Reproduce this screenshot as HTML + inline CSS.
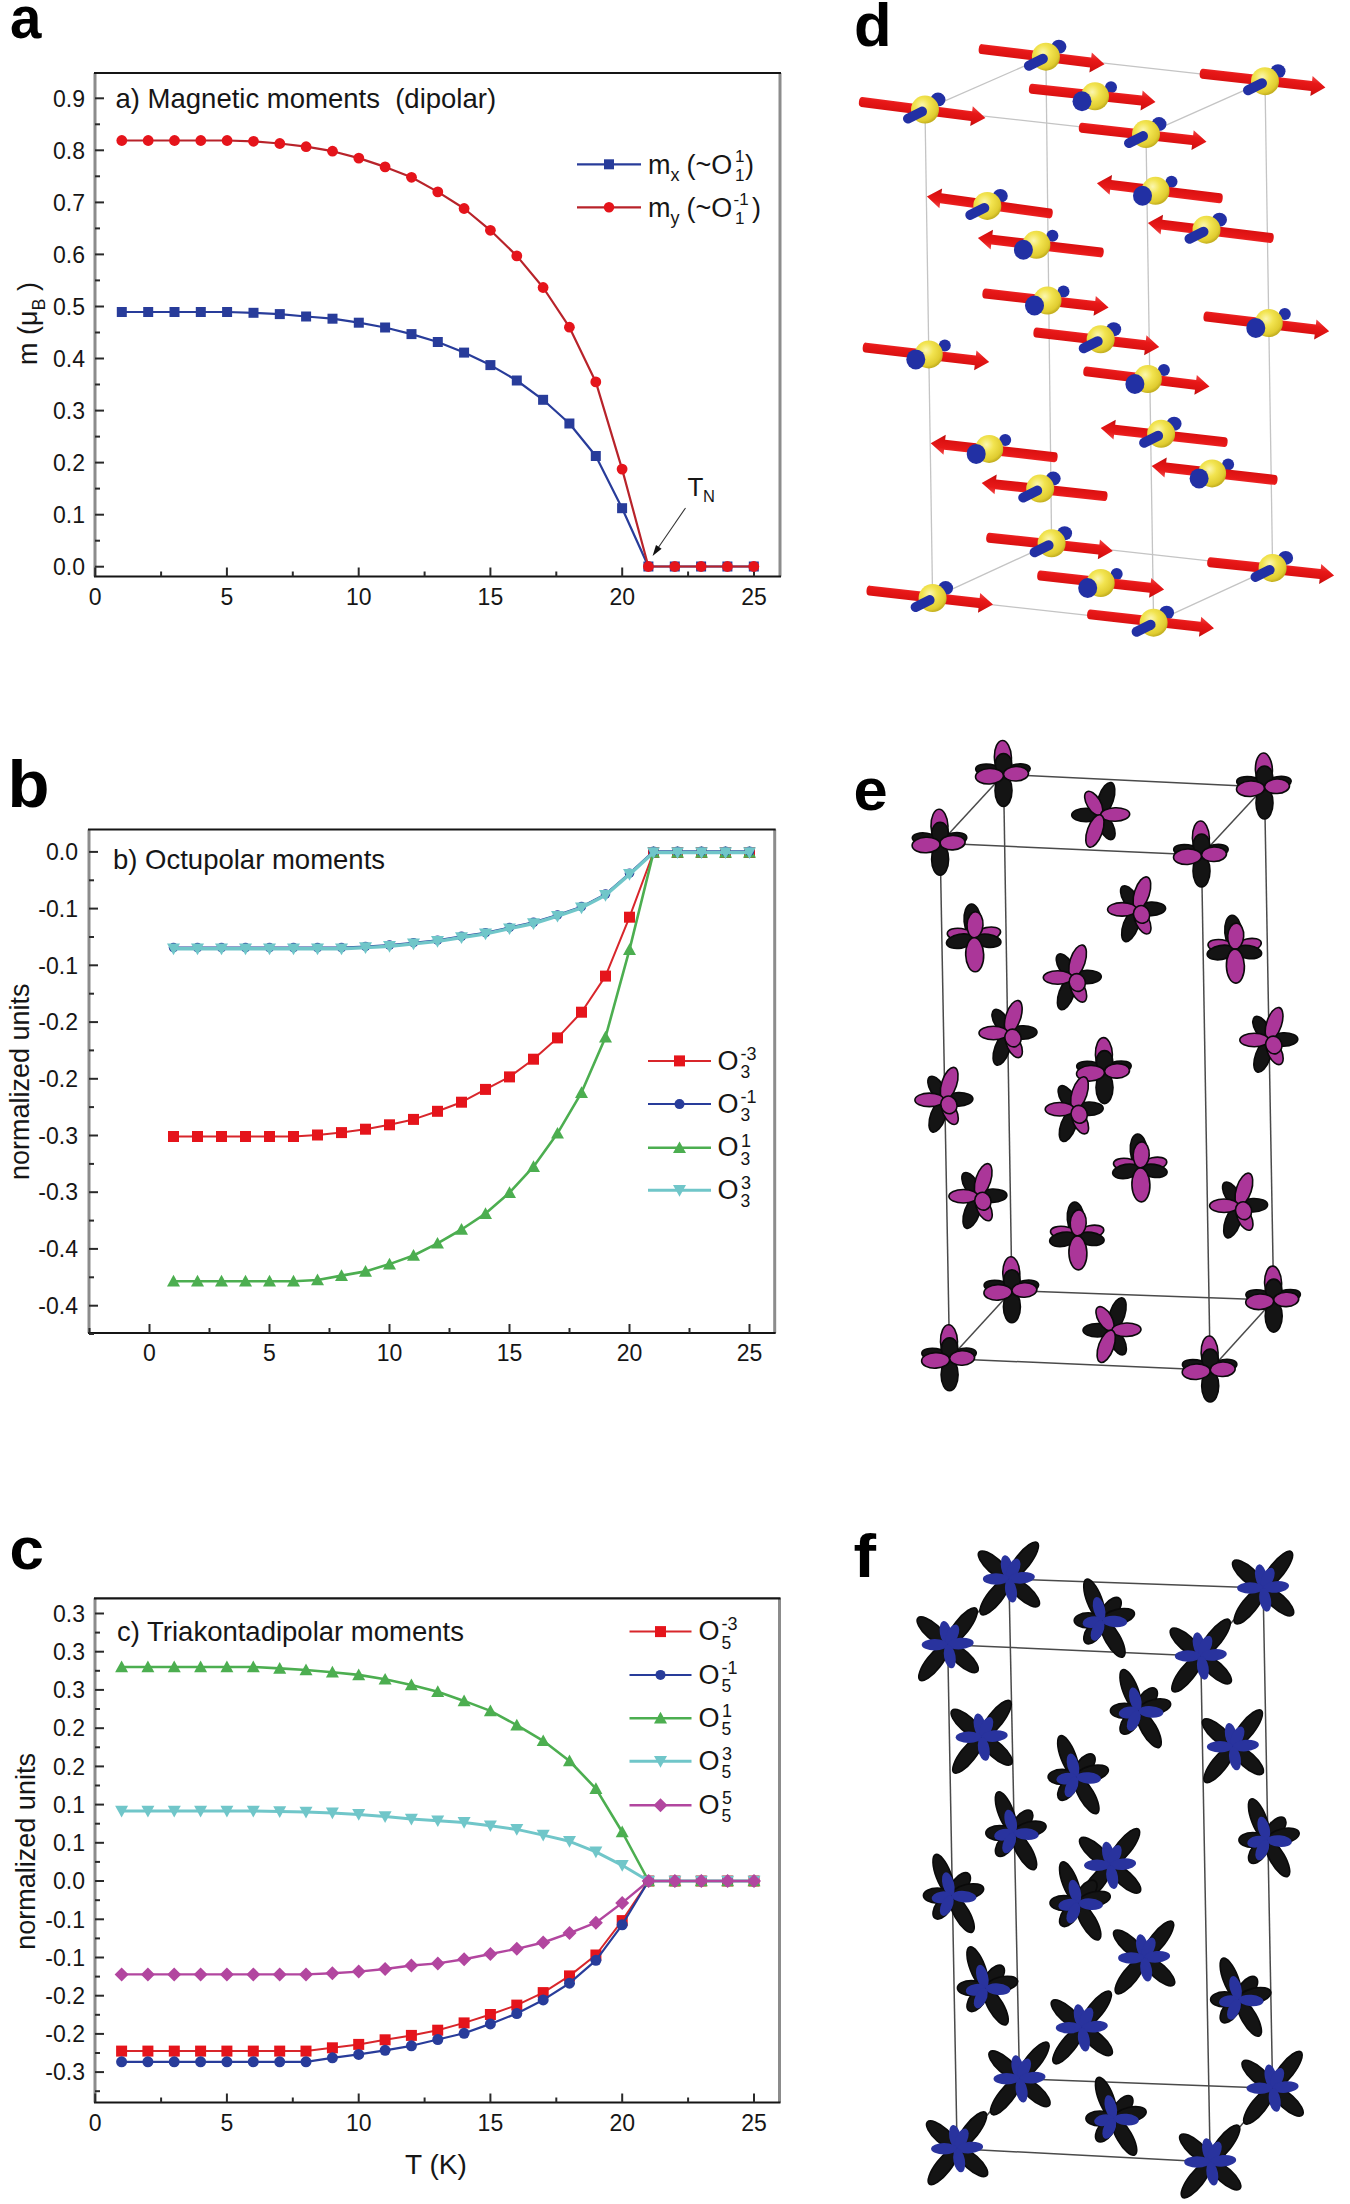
<!DOCTYPE html>
<html><head><meta charset="utf-8"><title>Figure</title>
<style>
html,body{margin:0;padding:0;background:#fff;}
body{width:1350px;height:2204px;overflow:hidden;position:relative;}
svg{position:absolute;left:0;top:0;}
text{font-family:"Liberation Sans", sans-serif;fill:#161616;}
.pl{font-weight:bold;fill:#000;}
</style></head><body>
<svg width="1350" height="2204" viewBox="0 0 1350 2204">

<line x1="95" y1="73" x2="95" y2="576.5" stroke="#8c8c8c" stroke-width="3"/><line x1="780" y1="73" x2="780" y2="576.5" stroke="#8c8c8c" stroke-width="3"/><line x1="94" y1="73" x2="781" y2="73" stroke="#151515" stroke-width="2.2"/><line x1="94" y1="576.5" x2="781" y2="576.5" stroke="#151515" stroke-width="2.2"/>
<line x1="95" y1="566.7" x2="104" y2="566.7" stroke="#2a2a2a" stroke-width="2"/><line x1="95" y1="514.7" x2="104" y2="514.7" stroke="#2a2a2a" stroke-width="2"/><line x1="95" y1="462.6" x2="104" y2="462.6" stroke="#2a2a2a" stroke-width="2"/><line x1="95" y1="410.6" x2="104" y2="410.6" stroke="#2a2a2a" stroke-width="2"/><line x1="95" y1="358.5" x2="104" y2="358.5" stroke="#2a2a2a" stroke-width="2"/><line x1="95" y1="306.5" x2="104" y2="306.5" stroke="#2a2a2a" stroke-width="2"/><line x1="95" y1="254.4" x2="104" y2="254.4" stroke="#2a2a2a" stroke-width="2"/><line x1="95" y1="202.4" x2="104" y2="202.4" stroke="#2a2a2a" stroke-width="2"/><line x1="95" y1="150.3" x2="104" y2="150.3" stroke="#2a2a2a" stroke-width="2"/><line x1="95" y1="98.3" x2="104" y2="98.3" stroke="#2a2a2a" stroke-width="2"/><line x1="95" y1="540.7" x2="100" y2="540.7" stroke="#2a2a2a" stroke-width="2"/><line x1="95" y1="488.6" x2="100" y2="488.6" stroke="#2a2a2a" stroke-width="2"/><line x1="95" y1="436.6" x2="100" y2="436.6" stroke="#2a2a2a" stroke-width="2"/><line x1="95" y1="384.5" x2="100" y2="384.5" stroke="#2a2a2a" stroke-width="2"/><line x1="95" y1="332.5" x2="100" y2="332.5" stroke="#2a2a2a" stroke-width="2"/><line x1="95" y1="280.4" x2="100" y2="280.4" stroke="#2a2a2a" stroke-width="2"/><line x1="95" y1="228.4" x2="100" y2="228.4" stroke="#2a2a2a" stroke-width="2"/><line x1="95" y1="176.3" x2="100" y2="176.3" stroke="#2a2a2a" stroke-width="2"/><line x1="95" y1="124.3" x2="100" y2="124.3" stroke="#2a2a2a" stroke-width="2"/><text x="85" y="574.9" text-anchor="end" font-size="23">0.0</text><text x="85" y="522.9" text-anchor="end" font-size="23">0.1</text><text x="85" y="470.8" text-anchor="end" font-size="23">0.2</text><text x="85" y="418.8" text-anchor="end" font-size="23">0.3</text><text x="85" y="366.7" text-anchor="end" font-size="23">0.4</text><text x="85" y="314.7" text-anchor="end" font-size="23">0.5</text><text x="85" y="262.6" text-anchor="end" font-size="23">0.6</text><text x="85" y="210.6" text-anchor="end" font-size="23">0.7</text><text x="85" y="158.5" text-anchor="end" font-size="23">0.8</text><text x="85" y="106.5" text-anchor="end" font-size="23">0.9</text>
<line x1="95.2" y1="576.5" x2="95.2" y2="567.5" stroke="#2a2a2a" stroke-width="2"/><line x1="226.9" y1="576.5" x2="226.9" y2="567.5" stroke="#2a2a2a" stroke-width="2"/><line x1="358.7" y1="576.5" x2="358.7" y2="567.5" stroke="#2a2a2a" stroke-width="2"/><line x1="490.4" y1="576.5" x2="490.4" y2="567.5" stroke="#2a2a2a" stroke-width="2"/><line x1="622.2" y1="576.5" x2="622.2" y2="567.5" stroke="#2a2a2a" stroke-width="2"/><line x1="754.0" y1="576.5" x2="754.0" y2="567.5" stroke="#2a2a2a" stroke-width="2"/><line x1="161.1" y1="576.5" x2="161.1" y2="571.5" stroke="#2a2a2a" stroke-width="2"/><line x1="292.8" y1="576.5" x2="292.8" y2="571.5" stroke="#2a2a2a" stroke-width="2"/><line x1="424.6" y1="576.5" x2="424.6" y2="571.5" stroke="#2a2a2a" stroke-width="2"/><line x1="556.3" y1="576.5" x2="556.3" y2="571.5" stroke="#2a2a2a" stroke-width="2"/><line x1="688.1" y1="576.5" x2="688.1" y2="571.5" stroke="#2a2a2a" stroke-width="2"/><text x="95.2" y="604.5" text-anchor="middle" font-size="23">0</text><text x="226.9" y="604.5" text-anchor="middle" font-size="23">5</text><text x="358.7" y="604.5" text-anchor="middle" font-size="23">10</text><text x="490.4" y="604.5" text-anchor="middle" font-size="23">15</text><text x="622.2" y="604.5" text-anchor="middle" font-size="23">20</text><text x="754.0" y="604.5" text-anchor="middle" font-size="23">25</text>
<polyline points="121.8,312.0 148.2,312.0 174.5,312.0 200.8,312.0 227.1,312.0 253.5,312.8 279.8,314.1 306.1,316.5 332.5,318.7 358.8,322.7 385.1,327.5 411.5,334.1 437.8,342.0 464.1,352.6 490.4,365.1 516.8,380.5 543.1,399.8 569.4,423.5 595.8,456.0 622.1,508.2 648.4,566.5 674.8,566.5 701.1,566.5 727.4,566.5 753.8,566.5" fill="none" stroke="#283c9a" stroke-width="2.2" stroke-linejoin="round"/><rect x="116.8" y="307.0" width="10" height="10" fill="#283c9a"/><rect x="143.2" y="307.0" width="10" height="10" fill="#283c9a"/><rect x="169.5" y="307.0" width="10" height="10" fill="#283c9a"/><rect x="195.8" y="307.0" width="10" height="10" fill="#283c9a"/><rect x="222.1" y="307.0" width="10" height="10" fill="#283c9a"/><rect x="248.5" y="307.8" width="10" height="10" fill="#283c9a"/><rect x="274.8" y="309.1" width="10" height="10" fill="#283c9a"/><rect x="301.1" y="311.5" width="10" height="10" fill="#283c9a"/><rect x="327.5" y="313.7" width="10" height="10" fill="#283c9a"/><rect x="353.8" y="317.7" width="10" height="10" fill="#283c9a"/><rect x="380.1" y="322.5" width="10" height="10" fill="#283c9a"/><rect x="406.5" y="329.1" width="10" height="10" fill="#283c9a"/><rect x="432.8" y="337.0" width="10" height="10" fill="#283c9a"/><rect x="459.1" y="347.6" width="10" height="10" fill="#283c9a"/><rect x="485.4" y="360.1" width="10" height="10" fill="#283c9a"/><rect x="511.8" y="375.5" width="10" height="10" fill="#283c9a"/><rect x="538.1" y="394.8" width="10" height="10" fill="#283c9a"/><rect x="564.4" y="418.5" width="10" height="10" fill="#283c9a"/><rect x="590.8" y="451.0" width="10" height="10" fill="#283c9a"/><rect x="617.1" y="503.2" width="10" height="10" fill="#283c9a"/><rect x="643.4" y="561.5" width="10" height="10" fill="#283c9a"/><rect x="669.8" y="561.5" width="10" height="10" fill="#283c9a"/><rect x="696.1" y="561.5" width="10" height="10" fill="#283c9a"/><rect x="722.4" y="561.5" width="10" height="10" fill="#283c9a"/><rect x="748.8" y="561.5" width="10" height="10" fill="#283c9a"/>
<polyline points="121.8,140.5 148.2,140.5 174.5,140.5 200.8,140.5 227.1,140.5 253.5,141.3 279.8,143.5 306.1,146.7 332.5,151.2 358.8,158.1 385.1,166.9 411.5,177.3 437.8,191.9 464.1,208.5 490.4,230.3 516.8,255.9 543.1,287.5 569.4,327.2 595.8,381.9 622.1,469.1 648.4,566.5 674.8,566.5 701.1,566.5 727.4,566.5 753.8,566.5" fill="none" stroke="#b8232a" stroke-width="2.2" stroke-linejoin="round"/><circle cx="121.8" cy="140.5" r="5.4" fill="#e5141b"/><circle cx="148.2" cy="140.5" r="5.4" fill="#e5141b"/><circle cx="174.5" cy="140.5" r="5.4" fill="#e5141b"/><circle cx="200.8" cy="140.5" r="5.4" fill="#e5141b"/><circle cx="227.1" cy="140.5" r="5.4" fill="#e5141b"/><circle cx="253.5" cy="141.3" r="5.4" fill="#e5141b"/><circle cx="279.8" cy="143.5" r="5.4" fill="#e5141b"/><circle cx="306.1" cy="146.7" r="5.4" fill="#e5141b"/><circle cx="332.5" cy="151.2" r="5.4" fill="#e5141b"/><circle cx="358.8" cy="158.1" r="5.4" fill="#e5141b"/><circle cx="385.1" cy="166.9" r="5.4" fill="#e5141b"/><circle cx="411.5" cy="177.3" r="5.4" fill="#e5141b"/><circle cx="437.8" cy="191.9" r="5.4" fill="#e5141b"/><circle cx="464.1" cy="208.5" r="5.4" fill="#e5141b"/><circle cx="490.4" cy="230.3" r="5.4" fill="#e5141b"/><circle cx="516.8" cy="255.9" r="5.4" fill="#e5141b"/><circle cx="543.1" cy="287.5" r="5.4" fill="#e5141b"/><circle cx="569.4" cy="327.2" r="5.4" fill="#e5141b"/><circle cx="595.8" cy="381.9" r="5.4" fill="#e5141b"/><circle cx="622.1" cy="469.1" r="5.4" fill="#e5141b"/><circle cx="648.4" cy="566.5" r="5.4" fill="#e5141b"/><circle cx="674.8" cy="566.5" r="5.4" fill="#e5141b"/><circle cx="701.1" cy="566.5" r="5.4" fill="#e5141b"/><circle cx="727.4" cy="566.5" r="5.4" fill="#e5141b"/><circle cx="753.8" cy="566.5" r="5.4" fill="#e5141b"/>
<text x="115.5" y="108" font-size="27.5">a) Magnetic moments&#160;&#160;(dipolar)</text>
<line x1="577" y1="164.3" x2="641" y2="164.3" stroke="#283c9a" stroke-width="2.2"/><rect x="604.0" y="159.3" width="10" height="10" fill="#283c9a"/>
<line x1="577" y1="207.3" x2="641" y2="207.3" stroke="#b8232a" stroke-width="2.2"/><circle cx="609.0" cy="207.3" r="5.25" fill="#e5141b"/>
<text font-size="27"><tspan x="648" y="173.6">m</tspan><tspan x="670.5" y="180.6" font-size="18">x</tspan><tspan x="686.5" y="173.6">(~O</tspan><tspan x="735" y="162.1" font-size="17">1</tspan><tspan x="735" y="180.79999999999998" font-size="17">1</tspan><tspan x="745" y="173.6">)</tspan></text>
<text font-size="27"><tspan x="648" y="216.6">m</tspan><tspan x="670.5" y="223.6" font-size="18">y</tspan><tspan x="686.5" y="216.6">(~O</tspan><tspan x="733.5" y="205.1" font-size="17">-1</tspan><tspan x="735" y="223.79999999999998" font-size="17">1</tspan><tspan x="752" y="216.6">)</tspan></text>
<text font-size="26"><tspan x="687.5" y="495.6">T</tspan><tspan x="703" y="502.2" font-size="16.5">N</tspan></text>
<line x1="685.5" y1="508" x2="658" y2="548" stroke="#333" stroke-width="1.1"/>
<polygon points="652.6,556 661.6,548.8 656.0,544.9" fill="#111"/>
<text transform="translate(36.5,365) rotate(-90)" font-size="27">m (μ<tspan font-size="18" dy="8">B</tspan><tspan dy="-8"> )</tspan></text>
<line x1="89" y1="829.5" x2="89" y2="1333" stroke="#8c8c8c" stroke-width="3"/><line x1="774.7" y1="829.5" x2="774.7" y2="1333" stroke="#8c8c8c" stroke-width="3"/><line x1="88" y1="829.5" x2="775.7" y2="829.5" stroke="#151515" stroke-width="2.2"/><line x1="88" y1="1333" x2="775.7" y2="1333" stroke="#151515" stroke-width="2.2"/>
<line x1="89" y1="851.9" x2="98" y2="851.9" stroke="#2a2a2a" stroke-width="2"/><line x1="89" y1="908.6" x2="98" y2="908.6" stroke="#2a2a2a" stroke-width="2"/><line x1="89" y1="965.3" x2="98" y2="965.3" stroke="#2a2a2a" stroke-width="2"/><line x1="89" y1="1022.1" x2="98" y2="1022.1" stroke="#2a2a2a" stroke-width="2"/><line x1="89" y1="1078.8" x2="98" y2="1078.8" stroke="#2a2a2a" stroke-width="2"/><line x1="89" y1="1135.5" x2="98" y2="1135.5" stroke="#2a2a2a" stroke-width="2"/><line x1="89" y1="1192.2" x2="98" y2="1192.2" stroke="#2a2a2a" stroke-width="2"/><line x1="89" y1="1248.9" x2="98" y2="1248.9" stroke="#2a2a2a" stroke-width="2"/><line x1="89" y1="1305.7" x2="98" y2="1305.7" stroke="#2a2a2a" stroke-width="2"/><line x1="89" y1="880.3" x2="94" y2="880.3" stroke="#2a2a2a" stroke-width="2"/><line x1="89" y1="937.0" x2="94" y2="937.0" stroke="#2a2a2a" stroke-width="2"/><line x1="89" y1="993.7" x2="94" y2="993.7" stroke="#2a2a2a" stroke-width="2"/><line x1="89" y1="1050.4" x2="94" y2="1050.4" stroke="#2a2a2a" stroke-width="2"/><line x1="89" y1="1107.1" x2="94" y2="1107.1" stroke="#2a2a2a" stroke-width="2"/><line x1="89" y1="1163.9" x2="94" y2="1163.9" stroke="#2a2a2a" stroke-width="2"/><line x1="89" y1="1220.6" x2="94" y2="1220.6" stroke="#2a2a2a" stroke-width="2"/><line x1="89" y1="1277.3" x2="94" y2="1277.3" stroke="#2a2a2a" stroke-width="2"/><line x1="89" y1="1334.0" x2="94" y2="1334.0" stroke="#2a2a2a" stroke-width="2"/><text x="78" y="860.1" text-anchor="end" font-size="23">0.0</text><text x="78" y="916.8" text-anchor="end" font-size="23">-0.1</text><text x="78" y="973.5" text-anchor="end" font-size="23">-0.1</text><text x="78" y="1030.3" text-anchor="end" font-size="23">-0.2</text><text x="78" y="1087.0" text-anchor="end" font-size="23">-0.2</text><text x="78" y="1143.7" text-anchor="end" font-size="23">-0.3</text><text x="78" y="1200.4" text-anchor="end" font-size="23">-0.3</text><text x="78" y="1257.1" text-anchor="end" font-size="23">-0.4</text><text x="78" y="1313.9" text-anchor="end" font-size="23">-0.4</text>
<line x1="149.5" y1="1333" x2="149.5" y2="1324" stroke="#2a2a2a" stroke-width="2"/><line x1="269.5" y1="1333" x2="269.5" y2="1324" stroke="#2a2a2a" stroke-width="2"/><line x1="389.5" y1="1333" x2="389.5" y2="1324" stroke="#2a2a2a" stroke-width="2"/><line x1="509.5" y1="1333" x2="509.5" y2="1324" stroke="#2a2a2a" stroke-width="2"/><line x1="629.5" y1="1333" x2="629.5" y2="1324" stroke="#2a2a2a" stroke-width="2"/><line x1="749.5" y1="1333" x2="749.5" y2="1324" stroke="#2a2a2a" stroke-width="2"/><line x1="89.5" y1="1333" x2="89.5" y2="1328" stroke="#2a2a2a" stroke-width="2"/><line x1="209.5" y1="1333" x2="209.5" y2="1328" stroke="#2a2a2a" stroke-width="2"/><line x1="329.5" y1="1333" x2="329.5" y2="1328" stroke="#2a2a2a" stroke-width="2"/><line x1="449.5" y1="1333" x2="449.5" y2="1328" stroke="#2a2a2a" stroke-width="2"/><line x1="569.5" y1="1333" x2="569.5" y2="1328" stroke="#2a2a2a" stroke-width="2"/><line x1="689.5" y1="1333" x2="689.5" y2="1328" stroke="#2a2a2a" stroke-width="2"/><text x="149.5" y="1361" text-anchor="middle" font-size="23">0</text><text x="269.5" y="1361" text-anchor="middle" font-size="23">5</text><text x="389.5" y="1361" text-anchor="middle" font-size="23">10</text><text x="509.5" y="1361" text-anchor="middle" font-size="23">15</text><text x="629.5" y="1361" text-anchor="middle" font-size="23">20</text><text x="749.5" y="1361" text-anchor="middle" font-size="23">25</text>
<polyline points="173.5,1136.5 197.5,1136.5 221.5,1136.5 245.5,1136.5 269.5,1136.5 293.5,1136.5 317.5,1135.0 341.5,1132.6 365.5,1129.2 389.5,1124.8 413.5,1119.4 437.5,1111.3 461.5,1102.2 485.5,1089.4 509.5,1076.9 533.5,1059.2 557.5,1037.9 581.5,1012.2 605.5,976.1 629.5,917.2 653.5,852.5 677.5,852.5 701.5,852.5 725.5,852.5 749.5,852.5" fill="none" stroke="#d8262b" stroke-width="2.0" stroke-linejoin="round"/><rect x="168.0" y="1131.0" width="11" height="11" fill="#e5141b"/><rect x="192.0" y="1131.0" width="11" height="11" fill="#e5141b"/><rect x="216.0" y="1131.0" width="11" height="11" fill="#e5141b"/><rect x="240.0" y="1131.0" width="11" height="11" fill="#e5141b"/><rect x="264.0" y="1131.0" width="11" height="11" fill="#e5141b"/><rect x="288.0" y="1131.0" width="11" height="11" fill="#e5141b"/><rect x="312.0" y="1129.5" width="11" height="11" fill="#e5141b"/><rect x="336.0" y="1127.1" width="11" height="11" fill="#e5141b"/><rect x="360.0" y="1123.7" width="11" height="11" fill="#e5141b"/><rect x="384.0" y="1119.3" width="11" height="11" fill="#e5141b"/><rect x="408.0" y="1113.9" width="11" height="11" fill="#e5141b"/><rect x="432.0" y="1105.8" width="11" height="11" fill="#e5141b"/><rect x="456.0" y="1096.7" width="11" height="11" fill="#e5141b"/><rect x="480.0" y="1083.9" width="11" height="11" fill="#e5141b"/><rect x="504.0" y="1071.4" width="11" height="11" fill="#e5141b"/><rect x="528.0" y="1053.7" width="11" height="11" fill="#e5141b"/><rect x="552.0" y="1032.4" width="11" height="11" fill="#e5141b"/><rect x="576.0" y="1006.7" width="11" height="11" fill="#e5141b"/><rect x="600.0" y="970.6" width="11" height="11" fill="#e5141b"/><rect x="624.0" y="911.7" width="11" height="11" fill="#e5141b"/><rect x="648.0" y="847.0" width="11" height="11" fill="#e5141b"/><rect x="672.0" y="847.0" width="11" height="11" fill="#e5141b"/><rect x="696.0" y="847.0" width="11" height="11" fill="#e5141b"/><rect x="720.0" y="847.0" width="11" height="11" fill="#e5141b"/><rect x="744.0" y="847.0" width="11" height="11" fill="#e5141b"/>
<polyline points="173.5,1281.2 197.5,1281.2 221.5,1281.2 245.5,1281.2 269.5,1281.2 293.5,1281.2 317.5,1280.0 341.5,1275.6 365.5,1271.4 389.5,1264.1 413.5,1255.5 437.5,1243.3 461.5,1229.5 485.5,1213.6 509.5,1192.7 533.5,1166.7 557.5,1133.3 581.5,1092.6 605.5,1037.2 629.5,949.6 653.5,852.5 677.5,852.5 701.5,852.5 725.5,852.5 749.5,852.5" fill="none" stroke="#4cae50" stroke-width="2.6" stroke-linejoin="round"/><polygon points="173.5,1274.8 180.0,1286.5 167.0,1286.5" fill="#4cae50"/><polygon points="197.5,1274.8 204.0,1286.5 191.0,1286.5" fill="#4cae50"/><polygon points="221.5,1274.8 228.0,1286.5 215.0,1286.5" fill="#4cae50"/><polygon points="245.5,1274.8 252.0,1286.5 239.0,1286.5" fill="#4cae50"/><polygon points="269.5,1274.8 276.0,1286.5 263.0,1286.5" fill="#4cae50"/><polygon points="293.5,1274.8 300.0,1286.5 287.0,1286.5" fill="#4cae50"/><polygon points="317.5,1273.6 324.0,1285.3 311.0,1285.3" fill="#4cae50"/><polygon points="341.5,1269.2 348.0,1280.9 335.0,1280.9" fill="#4cae50"/><polygon points="365.5,1265.0 372.0,1276.7 359.0,1276.7" fill="#4cae50"/><polygon points="389.5,1257.7 396.0,1269.4 383.0,1269.4" fill="#4cae50"/><polygon points="413.5,1249.1 420.0,1260.8 407.0,1260.8" fill="#4cae50"/><polygon points="437.5,1236.9 444.0,1248.6 431.0,1248.6" fill="#4cae50"/><polygon points="461.5,1223.1 468.0,1234.8 455.0,1234.8" fill="#4cae50"/><polygon points="485.5,1207.2 492.0,1218.9 479.0,1218.9" fill="#4cae50"/><polygon points="509.5,1186.3 516.0,1198.0 503.0,1198.0" fill="#4cae50"/><polygon points="533.5,1160.3 540.0,1172.0 527.0,1172.0" fill="#4cae50"/><polygon points="557.5,1126.9 564.0,1138.6 551.0,1138.6" fill="#4cae50"/><polygon points="581.5,1086.2 588.0,1097.9 575.0,1097.9" fill="#4cae50"/><polygon points="605.5,1030.8 612.0,1042.5 599.0,1042.5" fill="#4cae50"/><polygon points="629.5,943.2 636.0,954.9 623.0,954.9" fill="#4cae50"/><polygon points="653.5,846.1 660.0,857.8 647.0,857.8" fill="#4cae50"/><polygon points="677.5,846.1 684.0,857.8 671.0,857.8" fill="#4cae50"/><polygon points="701.5,846.1 708.0,857.8 695.0,857.8" fill="#4cae50"/><polygon points="725.5,846.1 732.0,857.8 719.0,857.8" fill="#4cae50"/><polygon points="749.5,846.1 756.0,857.8 743.0,857.8" fill="#4cae50"/>
<polyline points="173.5,947.6 197.5,947.6 221.5,947.6 245.5,947.6 269.5,947.6 293.5,947.6 317.5,947.6 341.5,947.6 365.5,946.4 389.5,945.1 413.5,942.7 437.5,940.2 461.5,936.3 485.5,932.7 509.5,927.5 533.5,922.3 557.5,915.0 581.5,906.6 605.5,894.1 629.5,873.2 653.5,851.3 677.5,851.3 701.5,851.3 725.5,851.3 749.5,851.3" fill="none" stroke="#283c9a" stroke-width="2.0" stroke-linejoin="round"/><circle cx="173.5" cy="947.6" r="4.75" fill="#283c9a"/><circle cx="197.5" cy="947.6" r="4.75" fill="#283c9a"/><circle cx="221.5" cy="947.6" r="4.75" fill="#283c9a"/><circle cx="245.5" cy="947.6" r="4.75" fill="#283c9a"/><circle cx="269.5" cy="947.6" r="4.75" fill="#283c9a"/><circle cx="293.5" cy="947.6" r="4.75" fill="#283c9a"/><circle cx="317.5" cy="947.6" r="4.75" fill="#283c9a"/><circle cx="341.5" cy="947.6" r="4.75" fill="#283c9a"/><circle cx="365.5" cy="946.4" r="4.75" fill="#283c9a"/><circle cx="389.5" cy="945.1" r="4.75" fill="#283c9a"/><circle cx="413.5" cy="942.7" r="4.75" fill="#283c9a"/><circle cx="437.5" cy="940.2" r="4.75" fill="#283c9a"/><circle cx="461.5" cy="936.3" r="4.75" fill="#283c9a"/><circle cx="485.5" cy="932.7" r="4.75" fill="#283c9a"/><circle cx="509.5" cy="927.5" r="4.75" fill="#283c9a"/><circle cx="533.5" cy="922.3" r="4.75" fill="#283c9a"/><circle cx="557.5" cy="915.0" r="4.75" fill="#283c9a"/><circle cx="581.5" cy="906.6" r="4.75" fill="#283c9a"/><circle cx="605.5" cy="894.1" r="4.75" fill="#283c9a"/><circle cx="629.5" cy="873.2" r="4.75" fill="#283c9a"/><circle cx="653.5" cy="851.3" r="4.75" fill="#283c9a"/><circle cx="677.5" cy="851.3" r="4.75" fill="#283c9a"/><circle cx="701.5" cy="851.3" r="4.75" fill="#283c9a"/><circle cx="725.5" cy="851.3" r="4.75" fill="#283c9a"/><circle cx="749.5" cy="851.3" r="4.75" fill="#283c9a"/>
<polyline points="173.5,948.8 197.5,948.8 221.5,948.8 245.5,948.8 269.5,948.8 293.5,948.8 317.5,948.8 341.5,948.8 365.5,947.6 389.5,946.3 413.5,943.9 437.5,941.4 461.5,937.5 485.5,933.9 509.5,928.7 533.5,923.5 557.5,916.2 581.5,907.8 605.5,895.3 629.5,874.4 653.5,852.5 677.5,852.5 701.5,852.5 725.5,852.5 749.5,852.5" fill="none" stroke="#70c6c9" stroke-width="3.4" stroke-linejoin="round"/><polygon points="173.5,955.2 180.0,943.5 167.0,943.5" fill="#70c6c9"/><polygon points="197.5,955.2 204.0,943.5 191.0,943.5" fill="#70c6c9"/><polygon points="221.5,955.2 228.0,943.5 215.0,943.5" fill="#70c6c9"/><polygon points="245.5,955.2 252.0,943.5 239.0,943.5" fill="#70c6c9"/><polygon points="269.5,955.2 276.0,943.5 263.0,943.5" fill="#70c6c9"/><polygon points="293.5,955.2 300.0,943.5 287.0,943.5" fill="#70c6c9"/><polygon points="317.5,955.2 324.0,943.5 311.0,943.5" fill="#70c6c9"/><polygon points="341.5,955.2 348.0,943.5 335.0,943.5" fill="#70c6c9"/><polygon points="365.5,954.0 372.0,942.3 359.0,942.3" fill="#70c6c9"/><polygon points="389.5,952.7 396.0,941.0 383.0,941.0" fill="#70c6c9"/><polygon points="413.5,950.3 420.0,938.6 407.0,938.6" fill="#70c6c9"/><polygon points="437.5,947.8 444.0,936.1 431.0,936.1" fill="#70c6c9"/><polygon points="461.5,943.9 468.0,932.2 455.0,932.2" fill="#70c6c9"/><polygon points="485.5,940.3 492.0,928.6 479.0,928.6" fill="#70c6c9"/><polygon points="509.5,935.1 516.0,923.4 503.0,923.4" fill="#70c6c9"/><polygon points="533.5,929.9 540.0,918.2 527.0,918.2" fill="#70c6c9"/><polygon points="557.5,922.6 564.0,910.9 551.0,910.9" fill="#70c6c9"/><polygon points="581.5,914.2 588.0,902.5 575.0,902.5" fill="#70c6c9"/><polygon points="605.5,901.7 612.0,890.0 599.0,890.0" fill="#70c6c9"/><polygon points="629.5,880.8 636.0,869.1 623.0,869.1" fill="#70c6c9"/><polygon points="653.5,858.9 660.0,847.2 647.0,847.2" fill="#70c6c9"/><polygon points="677.5,858.9 684.0,847.2 671.0,847.2" fill="#70c6c9"/><polygon points="701.5,858.9 708.0,847.2 695.0,847.2" fill="#70c6c9"/><polygon points="725.5,858.9 732.0,847.2 719.0,847.2" fill="#70c6c9"/><polygon points="749.5,858.9 756.0,847.2 743.0,847.2" fill="#70c6c9"/>
<text x="113" y="869" font-size="27.5">b) Octupolar moments</text>
<line x1="648" y1="1060.9" x2="711" y2="1060.9" stroke="#d8262b" stroke-width="2"/><rect x="674.0" y="1055.4" width="11" height="11" fill="#e5141b"/>
<text font-size="27"><tspan x="717.5" y="1069.5">O</tspan><tspan x="740.5" y="1059.6000000000001" font-size="18">-3</tspan><tspan x="740.5" y="1077.8000000000002" font-size="17.5">3</tspan></text>
<line x1="648" y1="1104.1" x2="711" y2="1104.1" stroke="#283c9a" stroke-width="2"/><circle cx="679.5" cy="1104.1" r="5.0" fill="#283c9a"/>
<text font-size="27"><tspan x="717.5" y="1112.6999999999998">O</tspan><tspan x="740.5" y="1102.8" font-size="18">-1</tspan><tspan x="740.5" y="1121.0" font-size="17.5">3</tspan></text>
<line x1="648" y1="1147.8" x2="711" y2="1147.8" stroke="#4cae50" stroke-width="2.6"/><polygon points="679.5,1141.4 686.0,1153.1 673.0,1153.1" fill="#4cae50"/>
<text font-size="27"><tspan x="717.5" y="1156.3999999999999">O</tspan><tspan x="741" y="1146.5" font-size="18">1</tspan><tspan x="740.5" y="1164.7" font-size="17.5">3</tspan></text>
<line x1="648" y1="1190.3" x2="711" y2="1190.3" stroke="#70c6c9" stroke-width="3"/><polygon points="679.5,1196.7 686.0,1185.0 673.0,1185.0" fill="#70c6c9"/>
<text font-size="27"><tspan x="717.5" y="1198.8999999999999">O</tspan><tspan x="741" y="1189.0" font-size="18">3</tspan><tspan x="740.5" y="1207.2" font-size="17.5">3</tspan></text>
<text transform="translate(29,1180) rotate(-90)" font-size="27">normalized units</text>
<line x1="95" y1="1598.3" x2="95" y2="2102.5" stroke="#8c8c8c" stroke-width="3"/><line x1="779.5" y1="1598.3" x2="779.5" y2="2102.5" stroke="#8c8c8c" stroke-width="3"/><line x1="94" y1="1598.3" x2="780.5" y2="1598.3" stroke="#151515" stroke-width="2.2"/><line x1="94" y1="2102.5" x2="780.5" y2="2102.5" stroke="#151515" stroke-width="2.2"/>
<line x1="95" y1="1613.5" x2="104" y2="1613.5" stroke="#2a2a2a" stroke-width="2"/><line x1="95" y1="1651.7" x2="104" y2="1651.7" stroke="#2a2a2a" stroke-width="2"/><line x1="95" y1="1689.9" x2="104" y2="1689.9" stroke="#2a2a2a" stroke-width="2"/><line x1="95" y1="1728.2" x2="104" y2="1728.2" stroke="#2a2a2a" stroke-width="2"/><line x1="95" y1="1766.4" x2="104" y2="1766.4" stroke="#2a2a2a" stroke-width="2"/><line x1="95" y1="1804.6" x2="104" y2="1804.6" stroke="#2a2a2a" stroke-width="2"/><line x1="95" y1="1842.8" x2="104" y2="1842.8" stroke="#2a2a2a" stroke-width="2"/><line x1="95" y1="1881.0" x2="104" y2="1881.0" stroke="#2a2a2a" stroke-width="2"/><line x1="95" y1="1919.3" x2="104" y2="1919.3" stroke="#2a2a2a" stroke-width="2"/><line x1="95" y1="1957.5" x2="104" y2="1957.5" stroke="#2a2a2a" stroke-width="2"/><line x1="95" y1="1995.7" x2="104" y2="1995.7" stroke="#2a2a2a" stroke-width="2"/><line x1="95" y1="2033.9" x2="104" y2="2033.9" stroke="#2a2a2a" stroke-width="2"/><line x1="95" y1="2072.1" x2="104" y2="2072.1" stroke="#2a2a2a" stroke-width="2"/><line x1="95" y1="1632.6" x2="100" y2="1632.6" stroke="#2a2a2a" stroke-width="2"/><line x1="95" y1="1670.8" x2="100" y2="1670.8" stroke="#2a2a2a" stroke-width="2"/><line x1="95" y1="1709.0" x2="100" y2="1709.0" stroke="#2a2a2a" stroke-width="2"/><line x1="95" y1="1747.3" x2="100" y2="1747.3" stroke="#2a2a2a" stroke-width="2"/><line x1="95" y1="1785.5" x2="100" y2="1785.5" stroke="#2a2a2a" stroke-width="2"/><line x1="95" y1="1823.7" x2="100" y2="1823.7" stroke="#2a2a2a" stroke-width="2"/><line x1="95" y1="1861.9" x2="100" y2="1861.9" stroke="#2a2a2a" stroke-width="2"/><line x1="95" y1="1900.2" x2="100" y2="1900.2" stroke="#2a2a2a" stroke-width="2"/><line x1="95" y1="1938.4" x2="100" y2="1938.4" stroke="#2a2a2a" stroke-width="2"/><line x1="95" y1="1976.6" x2="100" y2="1976.6" stroke="#2a2a2a" stroke-width="2"/><line x1="95" y1="2014.8" x2="100" y2="2014.8" stroke="#2a2a2a" stroke-width="2"/><line x1="95" y1="2053.0" x2="100" y2="2053.0" stroke="#2a2a2a" stroke-width="2"/><line x1="95" y1="2091.2" x2="100" y2="2091.2" stroke="#2a2a2a" stroke-width="2"/><text x="85" y="1621.7" text-anchor="end" font-size="23">0.3</text><text x="85" y="1659.9" text-anchor="end" font-size="23">0.3</text><text x="85" y="1698.1" text-anchor="end" font-size="23">0.3</text><text x="85" y="1736.4" text-anchor="end" font-size="23">0.2</text><text x="85" y="1774.6" text-anchor="end" font-size="23">0.2</text><text x="85" y="1812.8" text-anchor="end" font-size="23">0.1</text><text x="85" y="1851.0" text-anchor="end" font-size="23">0.1</text><text x="85" y="1889.2" text-anchor="end" font-size="23">0.0</text><text x="85" y="1927.5" text-anchor="end" font-size="23">-0.1</text><text x="85" y="1965.7" text-anchor="end" font-size="23">-0.1</text><text x="85" y="2003.9" text-anchor="end" font-size="23">-0.2</text><text x="85" y="2042.1" text-anchor="end" font-size="23">-0.2</text><text x="85" y="2080.3" text-anchor="end" font-size="23">-0.3</text>
<line x1="95.2" y1="2102.5" x2="95.2" y2="2093.5" stroke="#2a2a2a" stroke-width="2"/><line x1="226.9" y1="2102.5" x2="226.9" y2="2093.5" stroke="#2a2a2a" stroke-width="2"/><line x1="358.7" y1="2102.5" x2="358.7" y2="2093.5" stroke="#2a2a2a" stroke-width="2"/><line x1="490.4" y1="2102.5" x2="490.4" y2="2093.5" stroke="#2a2a2a" stroke-width="2"/><line x1="622.2" y1="2102.5" x2="622.2" y2="2093.5" stroke="#2a2a2a" stroke-width="2"/><line x1="754.0" y1="2102.5" x2="754.0" y2="2093.5" stroke="#2a2a2a" stroke-width="2"/><line x1="161.1" y1="2102.5" x2="161.1" y2="2097.5" stroke="#2a2a2a" stroke-width="2"/><line x1="292.8" y1="2102.5" x2="292.8" y2="2097.5" stroke="#2a2a2a" stroke-width="2"/><line x1="424.6" y1="2102.5" x2="424.6" y2="2097.5" stroke="#2a2a2a" stroke-width="2"/><line x1="556.3" y1="2102.5" x2="556.3" y2="2097.5" stroke="#2a2a2a" stroke-width="2"/><line x1="688.1" y1="2102.5" x2="688.1" y2="2097.5" stroke="#2a2a2a" stroke-width="2"/><text x="95.2" y="2130.5" text-anchor="middle" font-size="23">0</text><text x="226.9" y="2130.5" text-anchor="middle" font-size="23">5</text><text x="358.7" y="2130.5" text-anchor="middle" font-size="23">10</text><text x="490.4" y="2130.5" text-anchor="middle" font-size="23">15</text><text x="622.2" y="2130.5" text-anchor="middle" font-size="23">20</text><text x="754.0" y="2130.5" text-anchor="middle" font-size="23">25</text>
<polyline points="121.6,2051.1 147.9,2051.1 174.2,2051.1 200.6,2051.1 226.9,2051.1 253.3,2051.1 279.7,2051.1 306.0,2051.1 332.4,2047.8 358.7,2044.4 385.1,2039.8 411.4,2035.4 437.8,2030.2 464.1,2022.9 490.4,2014.5 516.8,2005.1 543.2,1992.6 569.5,1975.9 595.9,1955.0 622.2,1920.6 648.6,1881.0 674.9,1881.0 701.3,1881.0 727.6,1881.0 754.0,1881.0" fill="none" stroke="#d8262b" stroke-width="2.0" stroke-linejoin="round"/><rect x="116.1" y="2045.6" width="11" height="11" fill="#e5141b"/><rect x="142.4" y="2045.6" width="11" height="11" fill="#e5141b"/><rect x="168.8" y="2045.6" width="11" height="11" fill="#e5141b"/><rect x="195.1" y="2045.6" width="11" height="11" fill="#e5141b"/><rect x="221.4" y="2045.6" width="11" height="11" fill="#e5141b"/><rect x="247.8" y="2045.6" width="11" height="11" fill="#e5141b"/><rect x="274.2" y="2045.6" width="11" height="11" fill="#e5141b"/><rect x="300.5" y="2045.6" width="11" height="11" fill="#e5141b"/><rect x="326.9" y="2042.3" width="11" height="11" fill="#e5141b"/><rect x="353.2" y="2038.9" width="11" height="11" fill="#e5141b"/><rect x="379.6" y="2034.3" width="11" height="11" fill="#e5141b"/><rect x="405.9" y="2029.9" width="11" height="11" fill="#e5141b"/><rect x="432.2" y="2024.7" width="11" height="11" fill="#e5141b"/><rect x="458.6" y="2017.4" width="11" height="11" fill="#e5141b"/><rect x="484.9" y="2009.0" width="11" height="11" fill="#e5141b"/><rect x="511.3" y="1999.6" width="11" height="11" fill="#e5141b"/><rect x="537.7" y="1987.1" width="11" height="11" fill="#e5141b"/><rect x="564.0" y="1970.4" width="11" height="11" fill="#e5141b"/><rect x="590.4" y="1949.5" width="11" height="11" fill="#e5141b"/><rect x="616.7" y="1915.1" width="11" height="11" fill="#e5141b"/><rect x="643.1" y="1875.5" width="11" height="11" fill="#e5141b"/><rect x="669.4" y="1875.5" width="11" height="11" fill="#e5141b"/><rect x="695.8" y="1875.5" width="11" height="11" fill="#e5141b"/><rect x="722.1" y="1875.5" width="11" height="11" fill="#e5141b"/><rect x="748.5" y="1875.5" width="11" height="11" fill="#e5141b"/>
<polyline points="121.6,2061.8 147.9,2061.8 174.2,2061.8 200.6,2061.8 226.9,2061.8 253.3,2061.8 279.7,2061.8 306.0,2061.8 332.4,2057.8 358.7,2054.4 385.1,2050.3 411.4,2045.8 437.8,2039.5 464.1,2033.3 490.4,2023.9 516.8,2013.5 543.2,1999.9 569.5,1983.2 595.9,1960.3 622.2,1924.8 648.6,1881.0 674.9,1881.0 701.3,1881.0 727.6,1881.0 754.0,1881.0" fill="none" stroke="#283c9a" stroke-width="2.2" stroke-linejoin="round"/><circle cx="121.6" cy="2061.8" r="5.5" fill="#283c9a"/><circle cx="147.9" cy="2061.8" r="5.5" fill="#283c9a"/><circle cx="174.2" cy="2061.8" r="5.5" fill="#283c9a"/><circle cx="200.6" cy="2061.8" r="5.5" fill="#283c9a"/><circle cx="226.9" cy="2061.8" r="5.5" fill="#283c9a"/><circle cx="253.3" cy="2061.8" r="5.5" fill="#283c9a"/><circle cx="279.7" cy="2061.8" r="5.5" fill="#283c9a"/><circle cx="306.0" cy="2061.8" r="5.5" fill="#283c9a"/><circle cx="332.4" cy="2057.8" r="5.5" fill="#283c9a"/><circle cx="358.7" cy="2054.4" r="5.5" fill="#283c9a"/><circle cx="385.1" cy="2050.3" r="5.5" fill="#283c9a"/><circle cx="411.4" cy="2045.8" r="5.5" fill="#283c9a"/><circle cx="437.8" cy="2039.5" r="5.5" fill="#283c9a"/><circle cx="464.1" cy="2033.3" r="5.5" fill="#283c9a"/><circle cx="490.4" cy="2023.9" r="5.5" fill="#283c9a"/><circle cx="516.8" cy="2013.5" r="5.5" fill="#283c9a"/><circle cx="543.2" cy="1999.9" r="5.5" fill="#283c9a"/><circle cx="569.5" cy="1983.2" r="5.5" fill="#283c9a"/><circle cx="595.9" cy="1960.3" r="5.5" fill="#283c9a"/><circle cx="622.2" cy="1924.8" r="5.5" fill="#283c9a"/><circle cx="648.6" cy="1881.0" r="5.5" fill="#283c9a"/><circle cx="674.9" cy="1881.0" r="5.5" fill="#283c9a"/><circle cx="701.3" cy="1881.0" r="5.5" fill="#283c9a"/><circle cx="727.6" cy="1881.0" r="5.5" fill="#283c9a"/><circle cx="754.0" cy="1881.0" r="5.5" fill="#283c9a"/>
<polyline points="121.6,1667.0 147.9,1667.0 174.2,1667.0 200.6,1667.0 226.9,1667.0 253.3,1667.0 279.7,1668.4 306.0,1670.0 332.4,1672.2 358.7,1674.9 385.1,1679.3 411.4,1684.9 437.8,1691.7 464.1,1700.9 490.4,1710.9 516.8,1725.1 543.2,1740.8 569.5,1761.0 595.9,1788.6 622.2,1832.0 648.6,1881.0 674.9,1881.0 701.3,1881.0 727.6,1881.0 754.0,1881.0" fill="none" stroke="#4cae50" stroke-width="2.6" stroke-linejoin="round"/><polygon points="121.6,1660.6 128.1,1672.3 115.1,1672.3" fill="#4cae50"/><polygon points="147.9,1660.6 154.4,1672.3 141.4,1672.3" fill="#4cae50"/><polygon points="174.2,1660.6 180.8,1672.3 167.8,1672.3" fill="#4cae50"/><polygon points="200.6,1660.6 207.1,1672.3 194.1,1672.3" fill="#4cae50"/><polygon points="226.9,1660.6 233.4,1672.3 220.4,1672.3" fill="#4cae50"/><polygon points="253.3,1660.6 259.8,1672.3 246.8,1672.3" fill="#4cae50"/><polygon points="279.7,1662.0 286.2,1673.7 273.2,1673.7" fill="#4cae50"/><polygon points="306.0,1663.6 312.5,1675.3 299.5,1675.3" fill="#4cae50"/><polygon points="332.4,1665.8 338.9,1677.5 325.9,1677.5" fill="#4cae50"/><polygon points="358.7,1668.5 365.2,1680.2 352.2,1680.2" fill="#4cae50"/><polygon points="385.1,1672.9 391.6,1684.6 378.6,1684.6" fill="#4cae50"/><polygon points="411.4,1678.5 417.9,1690.2 404.9,1690.2" fill="#4cae50"/><polygon points="437.8,1685.3 444.2,1697.0 431.2,1697.0" fill="#4cae50"/><polygon points="464.1,1694.5 470.6,1706.2 457.6,1706.2" fill="#4cae50"/><polygon points="490.4,1704.5 496.9,1716.2 483.9,1716.2" fill="#4cae50"/><polygon points="516.8,1718.7 523.3,1730.4 510.3,1730.4" fill="#4cae50"/><polygon points="543.2,1734.4 549.7,1746.1 536.7,1746.1" fill="#4cae50"/><polygon points="569.5,1754.6 576.0,1766.3 563.0,1766.3" fill="#4cae50"/><polygon points="595.9,1782.2 602.4,1793.9 589.4,1793.9" fill="#4cae50"/><polygon points="622.2,1825.6 628.7,1837.3 615.7,1837.3" fill="#4cae50"/><polygon points="648.6,1874.6 655.1,1886.3 642.1,1886.3" fill="#4cae50"/><polygon points="674.9,1874.6 681.4,1886.3 668.4,1886.3" fill="#4cae50"/><polygon points="701.3,1874.6 707.8,1886.3 694.8,1886.3" fill="#4cae50"/><polygon points="727.6,1874.6 734.1,1886.3 721.1,1886.3" fill="#4cae50"/><polygon points="754.0,1874.6 760.5,1886.3 747.5,1886.3" fill="#4cae50"/>
<polyline points="121.6,1811.1 147.9,1811.1 174.2,1811.1 200.6,1811.1 226.9,1811.1 253.3,1811.1 279.7,1811.5 306.0,1812.0 332.4,1812.9 358.7,1814.4 385.1,1816.5 411.4,1819.0 437.8,1820.7 464.1,1822.4 490.4,1825.7 516.8,1829.4 543.2,1835.1 569.5,1841.3 595.9,1851.8 622.2,1865.3 648.6,1881.0 674.9,1881.0 701.3,1881.0 727.6,1881.0 754.0,1881.0" fill="none" stroke="#70c6c9" stroke-width="3.0" stroke-linejoin="round"/><polygon points="121.6,1817.5 128.1,1805.8 115.1,1805.8" fill="#70c6c9"/><polygon points="147.9,1817.5 154.4,1805.8 141.4,1805.8" fill="#70c6c9"/><polygon points="174.2,1817.5 180.8,1805.8 167.8,1805.8" fill="#70c6c9"/><polygon points="200.6,1817.5 207.1,1805.8 194.1,1805.8" fill="#70c6c9"/><polygon points="226.9,1817.5 233.4,1805.8 220.4,1805.8" fill="#70c6c9"/><polygon points="253.3,1817.5 259.8,1805.8 246.8,1805.8" fill="#70c6c9"/><polygon points="279.7,1817.9 286.2,1806.2 273.2,1806.2" fill="#70c6c9"/><polygon points="306.0,1818.4 312.5,1806.7 299.5,1806.7" fill="#70c6c9"/><polygon points="332.4,1819.3 338.9,1807.6 325.9,1807.6" fill="#70c6c9"/><polygon points="358.7,1820.8 365.2,1809.1 352.2,1809.1" fill="#70c6c9"/><polygon points="385.1,1822.9 391.6,1811.2 378.6,1811.2" fill="#70c6c9"/><polygon points="411.4,1825.4 417.9,1813.7 404.9,1813.7" fill="#70c6c9"/><polygon points="437.8,1827.1 444.2,1815.4 431.2,1815.4" fill="#70c6c9"/><polygon points="464.1,1828.8 470.6,1817.1 457.6,1817.1" fill="#70c6c9"/><polygon points="490.4,1832.1 496.9,1820.4 483.9,1820.4" fill="#70c6c9"/><polygon points="516.8,1835.8 523.3,1824.1 510.3,1824.1" fill="#70c6c9"/><polygon points="543.2,1841.5 549.7,1829.8 536.7,1829.8" fill="#70c6c9"/><polygon points="569.5,1847.7 576.0,1836.0 563.0,1836.0" fill="#70c6c9"/><polygon points="595.9,1858.2 602.4,1846.5 589.4,1846.5" fill="#70c6c9"/><polygon points="622.2,1871.7 628.7,1860.0 615.7,1860.0" fill="#70c6c9"/><polygon points="648.6,1887.4 655.1,1875.7 642.1,1875.7" fill="#70c6c9"/><polygon points="674.9,1887.4 681.4,1875.7 668.4,1875.7" fill="#70c6c9"/><polygon points="701.3,1887.4 707.8,1875.7 694.8,1875.7" fill="#70c6c9"/><polygon points="727.6,1887.4 734.1,1875.7 721.1,1875.7" fill="#70c6c9"/><polygon points="754.0,1887.4 760.5,1875.7 747.5,1875.7" fill="#70c6c9"/>
<polyline points="121.6,1974.4 147.9,1974.4 174.2,1974.4 200.6,1974.4 226.9,1974.4 253.3,1974.4 279.7,1974.4 306.0,1974.4 332.4,1973.3 358.7,1971.6 385.1,1969.0 411.4,1965.5 437.8,1963.4 464.1,1959.2 490.4,1954.0 516.8,1948.8 543.2,1942.5 569.5,1933.1 595.9,1922.7 622.2,1902.9 648.6,1881.0 674.9,1881.0 701.3,1881.0 727.6,1881.0 754.0,1881.0" fill="none" stroke="#b2469f" stroke-width="2.4" stroke-linejoin="round"/><polygon points="121.6,1967.4 128.6,1974.4 121.6,1981.4 114.6,1974.4" fill="#b2469f"/><polygon points="147.9,1967.4 154.9,1974.4 147.9,1981.4 140.9,1974.4" fill="#b2469f"/><polygon points="174.2,1967.4 181.2,1974.4 174.2,1981.4 167.2,1974.4" fill="#b2469f"/><polygon points="200.6,1967.4 207.6,1974.4 200.6,1981.4 193.6,1974.4" fill="#b2469f"/><polygon points="226.9,1967.4 233.9,1974.4 226.9,1981.4 219.9,1974.4" fill="#b2469f"/><polygon points="253.3,1967.4 260.3,1974.4 253.3,1981.4 246.3,1974.4" fill="#b2469f"/><polygon points="279.7,1967.4 286.7,1974.4 279.7,1981.4 272.7,1974.4" fill="#b2469f"/><polygon points="306.0,1967.4 313.0,1974.4 306.0,1981.4 299.0,1974.4" fill="#b2469f"/><polygon points="332.4,1966.3 339.4,1973.3 332.4,1980.3 325.4,1973.3" fill="#b2469f"/><polygon points="358.7,1964.6 365.7,1971.6 358.7,1978.6 351.7,1971.6" fill="#b2469f"/><polygon points="385.1,1962.0 392.1,1969.0 385.1,1976.0 378.1,1969.0" fill="#b2469f"/><polygon points="411.4,1958.5 418.4,1965.5 411.4,1972.5 404.4,1965.5" fill="#b2469f"/><polygon points="437.8,1956.4 444.8,1963.4 437.8,1970.4 430.8,1963.4" fill="#b2469f"/><polygon points="464.1,1952.2 471.1,1959.2 464.1,1966.2 457.1,1959.2" fill="#b2469f"/><polygon points="490.4,1947.0 497.4,1954.0 490.4,1961.0 483.4,1954.0" fill="#b2469f"/><polygon points="516.8,1941.8 523.8,1948.8 516.8,1955.8 509.8,1948.8" fill="#b2469f"/><polygon points="543.2,1935.5 550.2,1942.5 543.2,1949.5 536.2,1942.5" fill="#b2469f"/><polygon points="569.5,1926.1 576.5,1933.1 569.5,1940.1 562.5,1933.1" fill="#b2469f"/><polygon points="595.9,1915.7 602.9,1922.7 595.9,1929.7 588.9,1922.7" fill="#b2469f"/><polygon points="622.2,1895.9 629.2,1902.9 622.2,1909.9 615.2,1902.9" fill="#b2469f"/><polygon points="648.6,1874.0 655.6,1881.0 648.6,1888.0 641.6,1881.0" fill="#b2469f"/><polygon points="674.9,1874.0 681.9,1881.0 674.9,1888.0 667.9,1881.0" fill="#b2469f"/><polygon points="701.3,1874.0 708.3,1881.0 701.3,1888.0 694.3,1881.0" fill="#b2469f"/><polygon points="727.6,1874.0 734.6,1881.0 727.6,1888.0 720.6,1881.0" fill="#b2469f"/><polygon points="754.0,1874.0 761.0,1881.0 754.0,1888.0 747.0,1881.0" fill="#b2469f"/>
<text x="117" y="1641" font-size="27.5">c) Triakontadipolar moments</text>
<line x1="629.5" y1="1631.6" x2="691.5" y2="1631.6" stroke="#d8262b" stroke-width="2"/><rect x="655.0" y="1626.1" width="11" height="11" fill="#e5141b"/>
<text font-size="27"><tspan x="698.5" y="1640.1999999999998">O</tspan><tspan x="721.5" y="1630.3" font-size="18">-3</tspan><tspan x="721.5" y="1648.5" font-size="17.5">5</tspan></text>
<line x1="629.5" y1="1674.9" x2="691.5" y2="1674.9" stroke="#283c9a" stroke-width="2"/><circle cx="660.5" cy="1674.9" r="5.0" fill="#283c9a"/>
<text font-size="27"><tspan x="698.5" y="1683.5">O</tspan><tspan x="721.5" y="1673.6000000000001" font-size="18">-1</tspan><tspan x="721.5" y="1691.8000000000002" font-size="17.5">5</tspan></text>
<line x1="629.5" y1="1718.2" x2="691.5" y2="1718.2" stroke="#4cae50" stroke-width="2.6"/><polygon points="660.5,1711.8 667.0,1723.5 654.0,1723.5" fill="#4cae50"/>
<text font-size="27"><tspan x="698.5" y="1726.8">O</tspan><tspan x="722" y="1716.9" font-size="18">1</tspan><tspan x="721.5" y="1735.1000000000001" font-size="17.5">5</tspan></text>
<line x1="629.5" y1="1761.3" x2="691.5" y2="1761.3" stroke="#70c6c9" stroke-width="3"/><polygon points="660.5,1767.7 667.0,1756.0 654.0,1756.0" fill="#70c6c9"/>
<text font-size="27"><tspan x="698.5" y="1769.8999999999999">O</tspan><tspan x="722" y="1760.0" font-size="18">3</tspan><tspan x="721.5" y="1778.2" font-size="17.5">5</tspan></text>
<line x1="629.5" y1="1805.2" x2="691.5" y2="1805.2" stroke="#b2469f" stroke-width="2.4"/><polygon points="660.5,1798.2 667.5,1805.2 660.5,1812.2 653.5,1805.2" fill="#b2469f"/>
<text font-size="27"><tspan x="698.5" y="1813.8">O</tspan><tspan x="722" y="1803.9" font-size="18">5</tspan><tspan x="721.5" y="1822.1000000000001" font-size="17.5">5</tspan></text>
<text transform="translate(35,1949.7) rotate(-90)" font-size="27">normalized units</text>
<text x="405" y="2174" font-size="28">T (K)</text>
<text class="pl" transform="translate(9.9,38.2) scale(0.5642,0.5982)" font-size="100">a</text>
<text class="pl" transform="translate(7.6,806.9) scale(0.6880,0.6658)" font-size="100">b</text>
<text class="pl" transform="translate(9.6,1568.6) scale(0.6184,0.5873)" font-size="100">c</text>
<text class="pl" transform="translate(854.1,46.1) scale(0.6160,0.6027)" font-size="100">d</text>
<text class="pl" transform="translate(853.6,810.3) scale(0.6146,0.5945)" font-size="100">e</text>
<text class="pl" transform="translate(853.4,1577.4) scale(0.6774,0.6041)" font-size="100">f</text>
<defs>
<radialGradient id="ys" cx="0.4" cy="0.35" r="0.65">
<stop offset="0" stop-color="#fbf6b0"/><stop offset="0.4" stop-color="#f2e450"/><stop offset="0.85" stop-color="#e0cc30"/><stop offset="1" stop-color="#c4b020"/></radialGradient>
<linearGradient id="rs" x1="0" y1="0" x2="0" y2="1">
<stop offset="0" stop-color="#f04848"/><stop offset="0.35" stop-color="#e81818"/><stop offset="0.8" stop-color="#d81010"/><stop offset="1" stop-color="#b00c0c"/></linearGradient>
<radialGradient id="bs" cx="0.4" cy="0.4" r="0.7"><stop offset="0" stop-color="#3345c0"/><stop offset="1" stop-color="#1b2590"/></radialGradient>
</defs>
<g stroke="#c4c4c4" stroke-width="1.3" fill="none"><line x1="925" y1="109.6" x2="1045.9" y2="56.7"/><line x1="1045.9" y1="56.7" x2="1265" y2="81.2"/><line x1="925" y1="109.6" x2="1146" y2="134.1"/><line x1="1146" y1="134.1" x2="1265" y2="81.2"/><line x1="932.6" y1="598.1" x2="1051.6" y2="543.3"/><line x1="1051.6" y1="543.3" x2="1272.6" y2="567.9"/><line x1="932.6" y1="598.1" x2="1153.6" y2="622.7"/><line x1="1153.6" y1="622.7" x2="1272.6" y2="567.9"/><line x1="925" y1="109.6" x2="932.6" y2="598.1"/><line x1="1045.9" y1="56.7" x2="1051.6" y2="543.3"/><line x1="1146" y1="134.1" x2="1153.6" y2="622.7"/><line x1="1265" y1="81.2" x2="1272.6" y2="567.9"/></g>
<ellipse cx="1058.9" cy="46.7" rx="7.5" ry="7" fill="#2230a4"/><g transform="translate(981.7,49.1) rotate(7.01)"><path d="M0,-5 L109.72489644368262,-5 L109.72489644368262,-10 L123.72489644368262,0 L109.72489644368262,10 L109.72489644368262,5 L0,5 Q-3,5 -3,0 Q-3,-5 0,-5 Z" fill="url(#rs)"/></g><circle cx="1045.9" cy="56.7" r="14" fill="url(#ys)"/><line x1="1042.9" y1="58.7" x2="1028.9" y2="65.7" stroke="#2230a4" stroke-width="10" stroke-linecap="round"/>
<ellipse cx="1278.0" cy="71.2" rx="7.5" ry="7" fill="#2230a4"/><g transform="translate(1202.7,73.7) rotate(6.46)"><path d="M0,-5 L109.48481688045705,-5 L109.48481688045705,-10 L123.48481688045705,0 L109.48481688045705,10 L109.48481688045705,5 L0,5 Q-3,5 -3,0 Q-3,-5 0,-5 Z" fill="url(#rs)"/></g><circle cx="1265.0" cy="81.2" r="14" fill="url(#ys)"/><line x1="1262.0" y1="83.2" x2="1248.0" y2="90.2" stroke="#2230a4" stroke-width="10" stroke-linecap="round"/>
<ellipse cx="938.0" cy="99.6" rx="7.5" ry="7" fill="#2230a4"/><g transform="translate(861.9,102.0) rotate(7.34)"><path d="M0,-5 L110.51931577068676,-5 L110.51931577068676,-10 L124.51931577068676,0 L110.51931577068676,10 L110.51931577068676,5 L0,5 Q-3,5 -3,0 Q-3,-5 0,-5 Z" fill="url(#rs)"/></g><circle cx="925.0" cy="109.6" r="14" fill="url(#ys)"/><line x1="922.0" y1="111.6" x2="908.0" y2="118.6" stroke="#2230a4" stroke-width="10" stroke-linecap="round"/>
<circle cx="1111.0" cy="87.3" r="6" fill="#2230a4"/><g transform="translate(1031.9,88.8) rotate(6.10)"><path d="M0,-5 L110.30285596075409,-5 L110.30285596075409,-10 L124.30285596075409,0 L110.30285596075409,10 L110.30285596075409,5 L0,5 Q-3,5 -3,0 Q-3,-5 0,-5 Z" fill="url(#rs)"/></g><circle cx="1095.0" cy="96.3" r="14" fill="url(#ys)"/><ellipse cx="1082.0" cy="101.3" rx="9.5" ry="10" fill="#2230a4"/>
<ellipse cx="1159.0" cy="124.1" rx="7.5" ry="7" fill="#2230a4"/><g transform="translate(1081.8,127.7) rotate(6.41)"><path d="M0,-5 L111.48342520030289,-5 L111.48342520030289,-10 L125.48342520030289,0 L111.48342520030289,10 L111.48342520030289,5 L0,5 Q-3,5 -3,0 Q-3,-5 0,-5 Z" fill="url(#rs)"/></g><circle cx="1146.0" cy="134.1" r="14" fill="url(#ys)"/><line x1="1143.0" y1="136.1" x2="1129.0" y2="143.1" stroke="#2230a4" stroke-width="10" stroke-linecap="round"/>
<circle cx="1171.5" cy="181.8" r="6" fill="#2230a4"/><g transform="translate(1219.7,198.3) rotate(-172.99)"><path d="M0,-5 L109.72489644368262,-5 L109.72489644368262,-10 L123.72489644368262,0 L109.72489644368262,10 L109.72489644368262,5 L0,5 Q-3,5 -3,0 Q-3,-5 0,-5 Z" fill="url(#rs)"/></g><circle cx="1155.5" cy="190.8" r="14" fill="url(#ys)"/><ellipse cx="1142.5" cy="195.8" rx="9.5" ry="10" fill="#2230a4"/>
<ellipse cx="1000.3" cy="195.9" rx="7.5" ry="7" fill="#2230a4"/><g transform="translate(1049.7,213.4) rotate(-172.12)"><path d="M0,-5 L109.97112567045609,-5 L109.97112567045609,-10 L123.97112567045609,0 L109.97112567045609,10 L109.97112567045609,5 L0,5 Q-3,5 -3,0 Q-3,-5 0,-5 Z" fill="url(#rs)"/></g><circle cx="987.3" cy="205.9" r="14" fill="url(#ys)"/><line x1="984.3" y1="207.9" x2="970.3" y2="214.9" stroke="#2230a4" stroke-width="10" stroke-linecap="round"/>
<ellipse cx="1219.5" cy="219.7" rx="7.5" ry="7" fill="#2230a4"/><g transform="translate(1270.7,238.0) rotate(-172.99)"><path d="M0,-5 L109.72489644368262,-5 L109.72489644368262,-10 L123.72489644368262,0 L109.72489644368262,10 L109.72489644368262,5 L0,5 Q-3,5 -3,0 Q-3,-5 0,-5 Z" fill="url(#rs)"/></g><circle cx="1206.5" cy="229.7" r="14" fill="url(#ys)"/><line x1="1203.5" y1="231.7" x2="1189.5" y2="238.7" stroke="#2230a4" stroke-width="10" stroke-linecap="round"/>
<circle cx="1052.4" cy="235.8" r="6" fill="#2230a4"/><g transform="translate(1100.7,252.4) rotate(-173.31)"><path d="M0,-5 L109.64141700902663,-5 L109.64141700902663,-10 L123.64141700902663,0 L109.64141700902663,10 L109.64141700902663,5 L0,5 Q-3,5 -3,0 Q-3,-5 0,-5 Z" fill="url(#rs)"/></g><circle cx="1036.4" cy="244.8" r="14" fill="url(#ys)"/><ellipse cx="1023.4" cy="249.8" rx="9.5" ry="10" fill="#2230a4"/>
<circle cx="1063.5" cy="291.5" r="6" fill="#2230a4"/><g transform="translate(985.4,293.5) rotate(6.48)"><path d="M0,-5 L109.99290302271329,-5 L109.99290302271329,-10 L123.99290302271329,0 L109.99290302271329,10 L109.99290302271329,5 L0,5 Q-3,5 -3,0 Q-3,-5 0,-5 Z" fill="url(#rs)"/></g><circle cx="1047.5" cy="300.5" r="14" fill="url(#ys)"/><ellipse cx="1034.5" cy="305.5" rx="9.5" ry="10" fill="#2230a4"/>
<circle cx="1284.8" cy="314.0" r="6" fill="#2230a4"/><g transform="translate(1206.5,316.5) rotate(6.83)"><path d="M0,-5 L109.57742512287595,-5 L109.57742512287595,-10 L123.57742512287595,0 L109.57742512287595,10 L109.57742512287595,5 L0,5 Q-3,5 -3,0 Q-3,-5 0,-5 Z" fill="url(#rs)"/></g><circle cx="1268.8" cy="323.0" r="14" fill="url(#ys)"/><ellipse cx="1255.8" cy="328.0" rx="9.5" ry="10" fill="#2230a4"/>
<ellipse cx="1113.7" cy="329.3" rx="7.5" ry="7" fill="#2230a4"/><g transform="translate(1036.4,332.5) rotate(6.69)"><path d="M0,-5 L109.6414170090265,-5 L109.6414170090265,-10 L123.6414170090265,0 L109.6414170090265,10 L109.6414170090265,5 L0,5 Q-3,5 -3,0 Q-3,-5 0,-5 Z" fill="url(#rs)"/></g><circle cx="1100.7" cy="339.3" r="14" fill="url(#ys)"/><line x1="1097.7" y1="341.3" x2="1083.7" y2="348.3" stroke="#2230a4" stroke-width="10" stroke-linecap="round"/>
<circle cx="944.8" cy="345.4" r="6" fill="#2230a4"/><g transform="translate(865.7,347.6) rotate(6.65)"><path d="M0,-5 L110.33668002645076,-5 L110.33668002645076,-10 L124.33668002645076,0 L110.33668002645076,10 L110.33668002645076,5 L0,5 Q-3,5 -3,0 Q-3,-5 0,-5 Z" fill="url(#rs)"/></g><circle cx="928.8" cy="354.4" r="14" fill="url(#ys)"/><ellipse cx="915.8" cy="359.4" rx="9.5" ry="10" fill="#2230a4"/>
<circle cx="1163.9" cy="370.0" r="6" fill="#2230a4"/><g transform="translate(1086.3,371.4) rotate(7.03)"><path d="M0,-5 L110.13412101432874,-5 L110.13412101432874,-10 L124.13412101432874,0 L110.13412101432874,10 L110.13412101432874,5 L0,5 Q-3,5 -3,0 Q-3,-5 0,-5 Z" fill="url(#rs)"/></g><circle cx="1147.9" cy="379.0" r="14" fill="url(#ys)"/><ellipse cx="1134.9" cy="384.0" rx="9.5" ry="10" fill="#2230a4"/>
<ellipse cx="1174.1" cy="423.8" rx="7.5" ry="7" fill="#2230a4"/><g transform="translate(1224.6,442.1) rotate(-173.55)"><path d="M0,-5 L110.68845175075343,-5 L110.68845175075343,-10 L124.68845175075343,0 L110.68845175075343,10 L110.68845175075343,5 L0,5 Q-3,5 -3,0 Q-3,-5 0,-5 Z" fill="url(#rs)"/></g><circle cx="1161.1" cy="433.8" r="14" fill="url(#ys)"/><line x1="1158.1" y1="435.8" x2="1144.1" y2="442.8" stroke="#2230a4" stroke-width="10" stroke-linecap="round"/>
<circle cx="1005.2" cy="439.9" r="6" fill="#2230a4"/><g transform="translate(1054.6,457.2) rotate(-173.55)"><path d="M0,-5 L110.68845175075343,-5 L110.68845175075343,-10 L124.68845175075343,0 L110.68845175075343,10 L110.68845175075343,5 L0,5 Q-3,5 -3,0 Q-3,-5 0,-5 Z" fill="url(#rs)"/></g><circle cx="989.2" cy="448.9" r="14" fill="url(#ys)"/><ellipse cx="976.2" cy="453.9" rx="9.5" ry="10" fill="#2230a4"/>
<circle cx="1228.1" cy="464.4" r="6" fill="#2230a4"/><g transform="translate(1274.5,479.9) rotate(-173.50)"><path d="M0,-5 L109.59546917261972,-5 L109.59546917261972,-10 L123.59546917261972,0 L109.59546917261972,10 L109.59546917261972,5 L0,5 Q-3,5 -3,0 Q-3,-5 0,-5 Z" fill="url(#rs)"/></g><circle cx="1212.1" cy="473.4" r="14" fill="url(#ys)"/><ellipse cx="1199.1" cy="478.4" rx="9.5" ry="10" fill="#2230a4"/>
<ellipse cx="1053.2" cy="478.6" rx="7.5" ry="7" fill="#2230a4"/><g transform="translate(1104.5,496.1) rotate(-173.86)"><path d="M0,-5 L109.50740868466147,-5 L109.50740868466147,-10 L123.50740868466147,0 L109.50740868466147,10 L109.50740868466147,5 L0,5 Q-3,5 -3,0 Q-3,-5 0,-5 Z" fill="url(#rs)"/></g><circle cx="1040.2" cy="488.6" r="14" fill="url(#ys)"/><line x1="1037.2" y1="490.6" x2="1023.2" y2="497.6" stroke="#2230a4" stroke-width="10" stroke-linecap="round"/>
<ellipse cx="1064.6" cy="533.3" rx="7.5" ry="7" fill="#2230a4"/><g transform="translate(989.2,537.7) rotate(6.10)"><path d="M0,-5 L110.30285596075407,-5 L110.30285596075407,-10 L124.30285596075407,0 L110.30285596075407,10 L110.30285596075407,5 L0,5 Q-3,5 -3,0 Q-3,-5 0,-5 Z" fill="url(#rs)"/></g><circle cx="1051.6" cy="543.3" r="14" fill="url(#ys)"/><line x1="1048.6" y1="545.3" x2="1034.6" y2="552.3" stroke="#2230a4" stroke-width="10" stroke-linecap="round"/>
<ellipse cx="1285.6" cy="557.9" rx="7.5" ry="7" fill="#2230a4"/><g transform="translate(1210.2,562.2) rotate(6.13)"><path d="M0,-5 L110.61179719432653,-5 L110.61179719432653,-10 L124.61179719432653,0 L110.61179719432653,10 L110.61179719432653,5 L0,5 Q-3,5 -3,0 Q-3,-5 0,-5 Z" fill="url(#rs)"/></g><circle cx="1272.6" cy="567.9" r="14" fill="url(#ys)"/><line x1="1269.6" y1="569.9" x2="1255.6" y2="576.9" stroke="#2230a4" stroke-width="10" stroke-linecap="round"/>
<circle cx="1116.7" cy="574.0" r="6" fill="#2230a4"/><g transform="translate(1040.2,575.5) rotate(6.40)"><path d="M0,-5 L110.67726336425565,-5 L110.67726336425565,-10 L124.67726336425565,0 L110.67726336425565,10 L110.67726336425565,5 L0,5 Q-3,5 -3,0 Q-3,-5 0,-5 Z" fill="url(#rs)"/></g><circle cx="1100.7" cy="583.0" r="14" fill="url(#ys)"/><ellipse cx="1087.7" cy="588.0" rx="9.5" ry="10" fill="#2230a4"/>
<ellipse cx="945.6" cy="588.1" rx="7.5" ry="7" fill="#2230a4"/><g transform="translate(869.5,590.6) rotate(6.42)"><path d="M0,-5 L110.27976504644671,-5 L110.27976504644671,-10 L124.27976504644671,0 L110.27976504644671,10 L110.27976504644671,5 L0,5 Q-3,5 -3,0 Q-3,-5 0,-5 Z" fill="url(#rs)"/></g><circle cx="932.6" cy="598.1" r="14" fill="url(#ys)"/><line x1="929.6" y1="600.1" x2="915.6" y2="607.1" stroke="#2230a4" stroke-width="10" stroke-linecap="round"/>
<ellipse cx="1166.6" cy="612.7" rx="7.5" ry="7" fill="#2230a4"/><g transform="translate(1090.1,614.4) rotate(6.40)"><path d="M0,-5 L110.67726336425588,-5 L110.67726336425588,-10 L124.67726336425588,0 L110.67726336425588,10 L110.67726336425588,5 L0,5 Q-3,5 -3,0 Q-3,-5 0,-5 Z" fill="url(#rs)"/></g><circle cx="1153.6" cy="622.7" r="14" fill="url(#ys)"/><line x1="1150.6" y1="624.7" x2="1136.6" y2="631.7" stroke="#2230a4" stroke-width="10" stroke-linecap="round"/>
<g stroke="#4a4a4a" stroke-width="1.5" fill="none"><line x1="940.1" y1="843.3" x2="1003.5" y2="774.5"/><line x1="1003.5" y1="774.5" x2="1264.5" y2="787"/><line x1="940.1" y1="843.3" x2="1201.5" y2="855"/><line x1="1201.5" y1="855" x2="1264.5" y2="787"/><line x1="949.6" y1="1358.7" x2="1011.9" y2="1290.7"/><line x1="1011.9" y1="1290.7" x2="1273.7" y2="1300.1"/><line x1="949.6" y1="1358.7" x2="1210.2" y2="1370"/><line x1="1210.2" y1="1370" x2="1273.7" y2="1300.1"/><line x1="940.1" y1="843.3" x2="949.6" y2="1358.7"/><line x1="1003.5" y1="774.5" x2="1011.9" y2="1290.7"/><line x1="1201.5" y1="855" x2="1210.2" y2="1370"/><line x1="1264.5" y1="787" x2="1273.7" y2="1300.1"/></g>
<g><ellipse cx="989.6" cy="770.6" rx="14.0" ry="6.25" transform="rotate(-172.0 989.6 770.6)" fill="#141414" stroke="#0a0a0a" stroke-width="1.6"/><ellipse cx="1016.8" cy="770.4" rx="13.5" ry="6.25" transform="rotate(-9.0 1016.8 770.4)" fill="#141414" stroke="#0a0a0a" stroke-width="1.6"/><ellipse cx="1002.9" cy="757.5" rx="17.0" ry="8.5" transform="rotate(-92.0 1002.9 757.5)" fill="#ab3699" stroke="#0a0a0a" stroke-width="1.6"/><ellipse cx="1003.5" cy="764.0" rx="10.5" ry="8.25" transform="rotate(-90.0 1003.5 764.0)" fill="#141414" stroke="#0a0a0a" stroke-width="1.6"/><ellipse cx="1003.5" cy="790.5" rx="16.0" ry="8.5" transform="rotate(90.0 1003.5 790.5)" fill="#141414" stroke="#0a0a0a" stroke-width="1.6"/><ellipse cx="989.5" cy="776.2" rx="14.0" ry="7.75" transform="rotate(177.0 989.5 776.2)" fill="#ab3699" stroke="#0a0a0a" stroke-width="1.6"/><ellipse cx="1016.0" cy="773.8" rx="12.5" ry="7.25" transform="rotate(-3.0 1016.0 773.8)" fill="#ab3699" stroke="#0a0a0a" stroke-width="1.6"/></g>
<g><ellipse cx="1250.6" cy="783.1" rx="14.0" ry="6.25" transform="rotate(-172.0 1250.6 783.1)" fill="#141414" stroke="#0a0a0a" stroke-width="1.6"/><ellipse cx="1277.8" cy="782.9" rx="13.5" ry="6.25" transform="rotate(-9.0 1277.8 782.9)" fill="#141414" stroke="#0a0a0a" stroke-width="1.6"/><ellipse cx="1263.9" cy="770.0" rx="17.0" ry="8.5" transform="rotate(-92.0 1263.9 770.0)" fill="#ab3699" stroke="#0a0a0a" stroke-width="1.6"/><ellipse cx="1264.5" cy="776.5" rx="10.5" ry="8.25" transform="rotate(-90.0 1264.5 776.5)" fill="#141414" stroke="#0a0a0a" stroke-width="1.6"/><ellipse cx="1264.5" cy="803.0" rx="16.0" ry="8.5" transform="rotate(90.0 1264.5 803.0)" fill="#141414" stroke="#0a0a0a" stroke-width="1.6"/><ellipse cx="1250.5" cy="788.7" rx="14.0" ry="7.75" transform="rotate(177.0 1250.5 788.7)" fill="#ab3699" stroke="#0a0a0a" stroke-width="1.6"/><ellipse cx="1277.0" cy="786.3" rx="12.5" ry="7.25" transform="rotate(-3.0 1277.0 786.3)" fill="#ab3699" stroke="#0a0a0a" stroke-width="1.6"/></g>
<g><ellipse cx="1106.0" cy="798.8" rx="17.0" ry="7.5" transform="rotate(-72.0 1106.0 798.8)" fill="#141414" stroke="#0a0a0a" stroke-width="1.6"/><ellipse cx="1086.2" cy="815.0" rx="14.5" ry="6.75" transform="rotate(180.0 1086.2 815.0)" fill="#141414" stroke="#0a0a0a" stroke-width="1.6"/><ellipse cx="1106.6" cy="827.1" rx="13.5" ry="6.75" transform="rotate(64.0 1106.6 827.1)" fill="#141414" stroke="#0a0a0a" stroke-width="1.6"/><ellipse cx="1093.7" cy="803.4" rx="13.5" ry="6.75" transform="rotate(-121.0 1093.7 803.4)" fill="#ab3699" stroke="#0a0a0a" stroke-width="1.6"/><ellipse cx="1115.2" cy="814.5" rx="14.5" ry="6.75" transform="rotate(-2.0 1115.2 814.5)" fill="#ab3699" stroke="#0a0a0a" stroke-width="1.6"/><ellipse cx="1094.9" cy="831.0" rx="17.0" ry="7.5" transform="rotate(110.0 1094.9 831.0)" fill="#ab3699" stroke="#0a0a0a" stroke-width="1.6"/></g>
<g><ellipse cx="926.2" cy="839.4" rx="14.0" ry="6.25" transform="rotate(-172.0 926.2 839.4)" fill="#141414" stroke="#0a0a0a" stroke-width="1.6"/><ellipse cx="953.4" cy="839.2" rx="13.5" ry="6.25" transform="rotate(-9.0 953.4 839.2)" fill="#141414" stroke="#0a0a0a" stroke-width="1.6"/><ellipse cx="939.5" cy="826.3" rx="17.0" ry="8.5" transform="rotate(-92.0 939.5 826.3)" fill="#ab3699" stroke="#0a0a0a" stroke-width="1.6"/><ellipse cx="940.1" cy="832.8" rx="10.5" ry="8.25" transform="rotate(-90.0 940.1 832.8)" fill="#141414" stroke="#0a0a0a" stroke-width="1.6"/><ellipse cx="940.1" cy="859.3" rx="16.0" ry="8.5" transform="rotate(90.0 940.1 859.3)" fill="#141414" stroke="#0a0a0a" stroke-width="1.6"/><ellipse cx="926.1" cy="845.0" rx="14.0" ry="7.75" transform="rotate(177.0 926.1 845.0)" fill="#ab3699" stroke="#0a0a0a" stroke-width="1.6"/><ellipse cx="952.6" cy="842.6" rx="12.5" ry="7.25" transform="rotate(-3.0 952.6 842.6)" fill="#ab3699" stroke="#0a0a0a" stroke-width="1.6"/></g>
<g><ellipse cx="1187.6" cy="851.1" rx="14.0" ry="6.25" transform="rotate(-172.0 1187.6 851.1)" fill="#141414" stroke="#0a0a0a" stroke-width="1.6"/><ellipse cx="1214.8" cy="850.9" rx="13.5" ry="6.25" transform="rotate(-9.0 1214.8 850.9)" fill="#141414" stroke="#0a0a0a" stroke-width="1.6"/><ellipse cx="1200.9" cy="838.0" rx="17.0" ry="8.5" transform="rotate(-92.0 1200.9 838.0)" fill="#ab3699" stroke="#0a0a0a" stroke-width="1.6"/><ellipse cx="1201.5" cy="844.5" rx="10.5" ry="8.25" transform="rotate(-90.0 1201.5 844.5)" fill="#141414" stroke="#0a0a0a" stroke-width="1.6"/><ellipse cx="1201.5" cy="871.0" rx="16.0" ry="8.5" transform="rotate(90.0 1201.5 871.0)" fill="#141414" stroke="#0a0a0a" stroke-width="1.6"/><ellipse cx="1187.5" cy="856.7" rx="14.0" ry="7.75" transform="rotate(177.0 1187.5 856.7)" fill="#ab3699" stroke="#0a0a0a" stroke-width="1.6"/><ellipse cx="1214.0" cy="854.3" rx="12.5" ry="7.25" transform="rotate(-3.0 1214.0 854.3)" fill="#ab3699" stroke="#0a0a0a" stroke-width="1.6"/></g>
<g><ellipse cx="1129.6" cy="897.8" rx="13.5" ry="6.75" transform="rotate(-121.0 1129.6 897.8)" fill="#141414" stroke="#0a0a0a" stroke-width="1.6"/><ellipse cx="1151.1" cy="908.9" rx="14.5" ry="6.75" transform="rotate(-2.0 1151.1 908.9)" fill="#141414" stroke="#0a0a0a" stroke-width="1.6"/><ellipse cx="1130.8" cy="925.4" rx="17.0" ry="7.5" transform="rotate(110.0 1130.8 925.4)" fill="#141414" stroke="#0a0a0a" stroke-width="1.6"/><ellipse cx="1141.9" cy="893.2" rx="17.0" ry="7.5" transform="rotate(-72.0 1141.9 893.2)" fill="#ab3699" stroke="#0a0a0a" stroke-width="1.6"/><ellipse cx="1122.1" cy="909.4" rx="14.5" ry="6.75" transform="rotate(180.0 1122.1 909.4)" fill="#ab3699" stroke="#0a0a0a" stroke-width="1.6"/><ellipse cx="1142.5" cy="921.5" rx="13.5" ry="6.75" transform="rotate(64.0 1142.5 921.5)" fill="#ab3699" stroke="#0a0a0a" stroke-width="1.6"/><ellipse cx="1141.6" cy="914.4" rx="8" ry="9" transform="rotate(-20.0 1141.6 914.4)" fill="#ab3699" stroke="#0a0a0a" stroke-width="1.6"/></g>
<g><ellipse cx="972.6" cy="920.9" rx="17.0" ry="8.5" transform="rotate(-95.0 972.6 920.9)" fill="#141414" stroke="#0a0a0a" stroke-width="1.6"/><ellipse cx="960.7" cy="934.9" rx="13.5" ry="6.5" transform="rotate(-172.0 960.7 934.9)" fill="#ab3699" stroke="#0a0a0a" stroke-width="1.6"/><ellipse cx="987.3" cy="934.0" rx="13.5" ry="6.5" transform="rotate(-12.0 987.3 934.0)" fill="#ab3699" stroke="#0a0a0a" stroke-width="1.6"/><ellipse cx="960.3" cy="941.2" rx="14.0" ry="7.0" transform="rotate(170.0 960.3 941.2)" fill="#141414" stroke="#0a0a0a" stroke-width="1.6"/><ellipse cx="987.5" cy="940.7" rx="13.5" ry="6.5" transform="rotate(8.0 987.5 940.7)" fill="#141414" stroke="#0a0a0a" stroke-width="1.6"/><ellipse cx="975.0" cy="924.8" rx="13.0" ry="8.0" transform="rotate(-86.0 975.0 924.8)" fill="#ab3699" stroke="#0a0a0a" stroke-width="1.6"/><ellipse cx="974.7" cy="954.8" rx="17.0" ry="9.0" transform="rotate(88.0 974.7 954.8)" fill="#ab3699" stroke="#0a0a0a" stroke-width="1.6"/></g>
<g><ellipse cx="1233.3" cy="932.2" rx="17.0" ry="8.5" transform="rotate(-95.0 1233.3 932.2)" fill="#141414" stroke="#0a0a0a" stroke-width="1.6"/><ellipse cx="1221.4" cy="946.2" rx="13.5" ry="6.5" transform="rotate(-172.0 1221.4 946.2)" fill="#ab3699" stroke="#0a0a0a" stroke-width="1.6"/><ellipse cx="1248.0" cy="945.3" rx="13.5" ry="6.5" transform="rotate(-12.0 1248.0 945.3)" fill="#ab3699" stroke="#0a0a0a" stroke-width="1.6"/><ellipse cx="1221.0" cy="952.5" rx="14.0" ry="7.0" transform="rotate(170.0 1221.0 952.5)" fill="#141414" stroke="#0a0a0a" stroke-width="1.6"/><ellipse cx="1248.2" cy="952.0" rx="13.5" ry="6.5" transform="rotate(8.0 1248.2 952.0)" fill="#141414" stroke="#0a0a0a" stroke-width="1.6"/><ellipse cx="1235.7" cy="936.1" rx="13.0" ry="8.0" transform="rotate(-86.0 1235.7 936.1)" fill="#ab3699" stroke="#0a0a0a" stroke-width="1.6"/><ellipse cx="1235.4" cy="966.1" rx="17.0" ry="9.0" transform="rotate(88.0 1235.4 966.1)" fill="#ab3699" stroke="#0a0a0a" stroke-width="1.6"/></g>
<g><ellipse cx="1065.3" cy="965.9" rx="13.5" ry="6.75" transform="rotate(-121.0 1065.3 965.9)" fill="#141414" stroke="#0a0a0a" stroke-width="1.6"/><ellipse cx="1086.8" cy="977.0" rx="14.5" ry="6.75" transform="rotate(-2.0 1086.8 977.0)" fill="#141414" stroke="#0a0a0a" stroke-width="1.6"/><ellipse cx="1066.5" cy="993.5" rx="17.0" ry="7.5" transform="rotate(110.0 1066.5 993.5)" fill="#141414" stroke="#0a0a0a" stroke-width="1.6"/><ellipse cx="1077.6" cy="961.3" rx="17.0" ry="7.5" transform="rotate(-72.0 1077.6 961.3)" fill="#ab3699" stroke="#0a0a0a" stroke-width="1.6"/><ellipse cx="1057.8" cy="977.5" rx="14.5" ry="6.75" transform="rotate(180.0 1057.8 977.5)" fill="#ab3699" stroke="#0a0a0a" stroke-width="1.6"/><ellipse cx="1078.2" cy="989.6" rx="13.5" ry="6.75" transform="rotate(64.0 1078.2 989.6)" fill="#ab3699" stroke="#0a0a0a" stroke-width="1.6"/><ellipse cx="1077.3" cy="982.5" rx="8" ry="9" transform="rotate(-20.0 1077.3 982.5)" fill="#ab3699" stroke="#0a0a0a" stroke-width="1.6"/></g>
<g><ellipse cx="1001.0" cy="1021.4" rx="13.5" ry="6.75" transform="rotate(-121.0 1001.0 1021.4)" fill="#141414" stroke="#0a0a0a" stroke-width="1.6"/><ellipse cx="1022.5" cy="1032.5" rx="14.5" ry="6.75" transform="rotate(-2.0 1022.5 1032.5)" fill="#141414" stroke="#0a0a0a" stroke-width="1.6"/><ellipse cx="1002.2" cy="1049.0" rx="17.0" ry="7.5" transform="rotate(110.0 1002.2 1049.0)" fill="#141414" stroke="#0a0a0a" stroke-width="1.6"/><ellipse cx="1013.3" cy="1016.8" rx="17.0" ry="7.5" transform="rotate(-72.0 1013.3 1016.8)" fill="#ab3699" stroke="#0a0a0a" stroke-width="1.6"/><ellipse cx="993.5" cy="1033.0" rx="14.5" ry="6.75" transform="rotate(180.0 993.5 1033.0)" fill="#ab3699" stroke="#0a0a0a" stroke-width="1.6"/><ellipse cx="1013.9" cy="1045.1" rx="13.5" ry="6.75" transform="rotate(64.0 1013.9 1045.1)" fill="#ab3699" stroke="#0a0a0a" stroke-width="1.6"/><ellipse cx="1013.0" cy="1038.0" rx="8" ry="9" transform="rotate(-20.0 1013.0 1038.0)" fill="#ab3699" stroke="#0a0a0a" stroke-width="1.6"/></g>
<g><ellipse cx="1261.8" cy="1028.4" rx="13.5" ry="6.75" transform="rotate(-121.0 1261.8 1028.4)" fill="#141414" stroke="#0a0a0a" stroke-width="1.6"/><ellipse cx="1283.3" cy="1039.5" rx="14.5" ry="6.75" transform="rotate(-2.0 1283.3 1039.5)" fill="#141414" stroke="#0a0a0a" stroke-width="1.6"/><ellipse cx="1263.0" cy="1056.0" rx="17.0" ry="7.5" transform="rotate(110.0 1263.0 1056.0)" fill="#141414" stroke="#0a0a0a" stroke-width="1.6"/><ellipse cx="1274.1" cy="1023.8" rx="17.0" ry="7.5" transform="rotate(-72.0 1274.1 1023.8)" fill="#ab3699" stroke="#0a0a0a" stroke-width="1.6"/><ellipse cx="1254.3" cy="1040.0" rx="14.5" ry="6.75" transform="rotate(180.0 1254.3 1040.0)" fill="#ab3699" stroke="#0a0a0a" stroke-width="1.6"/><ellipse cx="1274.7" cy="1052.1" rx="13.5" ry="6.75" transform="rotate(64.0 1274.7 1052.1)" fill="#ab3699" stroke="#0a0a0a" stroke-width="1.6"/><ellipse cx="1273.8" cy="1045.0" rx="8" ry="9" transform="rotate(-20.0 1273.8 1045.0)" fill="#ab3699" stroke="#0a0a0a" stroke-width="1.6"/></g>
<g><ellipse cx="1090.6" cy="1067.7" rx="14.0" ry="6.25" transform="rotate(-172.0 1090.6 1067.7)" fill="#141414" stroke="#0a0a0a" stroke-width="1.6"/><ellipse cx="1117.8" cy="1067.5" rx="13.5" ry="6.25" transform="rotate(-9.0 1117.8 1067.5)" fill="#141414" stroke="#0a0a0a" stroke-width="1.6"/><ellipse cx="1103.9" cy="1054.6" rx="17.0" ry="8.5" transform="rotate(-92.0 1103.9 1054.6)" fill="#ab3699" stroke="#0a0a0a" stroke-width="1.6"/><ellipse cx="1104.5" cy="1061.1" rx="10.5" ry="8.25" transform="rotate(-90.0 1104.5 1061.1)" fill="#141414" stroke="#0a0a0a" stroke-width="1.6"/><ellipse cx="1104.5" cy="1087.6" rx="16.0" ry="8.5" transform="rotate(90.0 1104.5 1087.6)" fill="#141414" stroke="#0a0a0a" stroke-width="1.6"/><ellipse cx="1090.5" cy="1073.3" rx="14.0" ry="7.75" transform="rotate(177.0 1090.5 1073.3)" fill="#ab3699" stroke="#0a0a0a" stroke-width="1.6"/><ellipse cx="1117.0" cy="1070.9" rx="12.5" ry="7.25" transform="rotate(-3.0 1117.0 1070.9)" fill="#ab3699" stroke="#0a0a0a" stroke-width="1.6"/></g>
<g><ellipse cx="936.9" cy="1088.3" rx="13.5" ry="6.75" transform="rotate(-121.0 936.9 1088.3)" fill="#141414" stroke="#0a0a0a" stroke-width="1.6"/><ellipse cx="958.4" cy="1099.4" rx="14.5" ry="6.75" transform="rotate(-2.0 958.4 1099.4)" fill="#141414" stroke="#0a0a0a" stroke-width="1.6"/><ellipse cx="938.1" cy="1115.9" rx="17.0" ry="7.5" transform="rotate(110.0 938.1 1115.9)" fill="#141414" stroke="#0a0a0a" stroke-width="1.6"/><ellipse cx="949.2" cy="1083.7" rx="17.0" ry="7.5" transform="rotate(-72.0 949.2 1083.7)" fill="#ab3699" stroke="#0a0a0a" stroke-width="1.6"/><ellipse cx="929.4" cy="1099.9" rx="14.5" ry="6.75" transform="rotate(180.0 929.4 1099.9)" fill="#ab3699" stroke="#0a0a0a" stroke-width="1.6"/><ellipse cx="949.8" cy="1112.0" rx="13.5" ry="6.75" transform="rotate(64.0 949.8 1112.0)" fill="#ab3699" stroke="#0a0a0a" stroke-width="1.6"/><ellipse cx="948.9" cy="1104.9" rx="8" ry="9" transform="rotate(-20.0 948.9 1104.9)" fill="#ab3699" stroke="#0a0a0a" stroke-width="1.6"/></g>
<g><ellipse cx="1067.2" cy="1097.7" rx="13.5" ry="6.75" transform="rotate(-121.0 1067.2 1097.7)" fill="#141414" stroke="#0a0a0a" stroke-width="1.6"/><ellipse cx="1088.7" cy="1108.8" rx="14.5" ry="6.75" transform="rotate(-2.0 1088.7 1108.8)" fill="#141414" stroke="#0a0a0a" stroke-width="1.6"/><ellipse cx="1068.4" cy="1125.3" rx="17.0" ry="7.5" transform="rotate(110.0 1068.4 1125.3)" fill="#141414" stroke="#0a0a0a" stroke-width="1.6"/><ellipse cx="1079.5" cy="1093.1" rx="17.0" ry="7.5" transform="rotate(-72.0 1079.5 1093.1)" fill="#ab3699" stroke="#0a0a0a" stroke-width="1.6"/><ellipse cx="1059.7" cy="1109.3" rx="14.5" ry="6.75" transform="rotate(180.0 1059.7 1109.3)" fill="#ab3699" stroke="#0a0a0a" stroke-width="1.6"/><ellipse cx="1080.1" cy="1121.4" rx="13.5" ry="6.75" transform="rotate(64.0 1080.1 1121.4)" fill="#ab3699" stroke="#0a0a0a" stroke-width="1.6"/><ellipse cx="1079.2" cy="1114.3" rx="8" ry="9" transform="rotate(-20.0 1079.2 1114.3)" fill="#ab3699" stroke="#0a0a0a" stroke-width="1.6"/></g>
<g><ellipse cx="1138.8" cy="1151.0" rx="17.0" ry="8.5" transform="rotate(-95.0 1138.8 1151.0)" fill="#141414" stroke="#0a0a0a" stroke-width="1.6"/><ellipse cx="1126.9" cy="1165.0" rx="13.5" ry="6.5" transform="rotate(-172.0 1126.9 1165.0)" fill="#ab3699" stroke="#0a0a0a" stroke-width="1.6"/><ellipse cx="1153.5" cy="1164.1" rx="13.5" ry="6.5" transform="rotate(-12.0 1153.5 1164.1)" fill="#ab3699" stroke="#0a0a0a" stroke-width="1.6"/><ellipse cx="1126.5" cy="1171.3" rx="14.0" ry="7.0" transform="rotate(170.0 1126.5 1171.3)" fill="#141414" stroke="#0a0a0a" stroke-width="1.6"/><ellipse cx="1153.7" cy="1170.8" rx="13.5" ry="6.5" transform="rotate(8.0 1153.7 1170.8)" fill="#141414" stroke="#0a0a0a" stroke-width="1.6"/><ellipse cx="1141.2" cy="1154.9" rx="13.0" ry="8.0" transform="rotate(-86.0 1141.2 1154.9)" fill="#ab3699" stroke="#0a0a0a" stroke-width="1.6"/><ellipse cx="1140.9" cy="1184.9" rx="17.0" ry="9.0" transform="rotate(88.0 1140.9 1184.9)" fill="#ab3699" stroke="#0a0a0a" stroke-width="1.6"/></g>
<g><ellipse cx="970.9" cy="1184.6" rx="13.5" ry="6.75" transform="rotate(-121.0 970.9 1184.6)" fill="#141414" stroke="#0a0a0a" stroke-width="1.6"/><ellipse cx="992.4" cy="1195.7" rx="14.5" ry="6.75" transform="rotate(-2.0 992.4 1195.7)" fill="#141414" stroke="#0a0a0a" stroke-width="1.6"/><ellipse cx="972.1" cy="1212.2" rx="17.0" ry="7.5" transform="rotate(110.0 972.1 1212.2)" fill="#141414" stroke="#0a0a0a" stroke-width="1.6"/><ellipse cx="983.2" cy="1180.0" rx="17.0" ry="7.5" transform="rotate(-72.0 983.2 1180.0)" fill="#ab3699" stroke="#0a0a0a" stroke-width="1.6"/><ellipse cx="963.4" cy="1196.2" rx="14.5" ry="6.75" transform="rotate(180.0 963.4 1196.2)" fill="#ab3699" stroke="#0a0a0a" stroke-width="1.6"/><ellipse cx="983.8" cy="1208.3" rx="13.5" ry="6.75" transform="rotate(64.0 983.8 1208.3)" fill="#ab3699" stroke="#0a0a0a" stroke-width="1.6"/><ellipse cx="982.9" cy="1201.2" rx="8" ry="9" transform="rotate(-20.0 982.9 1201.2)" fill="#ab3699" stroke="#0a0a0a" stroke-width="1.6"/></g>
<g><ellipse cx="1231.6" cy="1194.1" rx="13.5" ry="6.75" transform="rotate(-121.0 1231.6 1194.1)" fill="#141414" stroke="#0a0a0a" stroke-width="1.6"/><ellipse cx="1253.1" cy="1205.2" rx="14.5" ry="6.75" transform="rotate(-2.0 1253.1 1205.2)" fill="#141414" stroke="#0a0a0a" stroke-width="1.6"/><ellipse cx="1232.8" cy="1221.7" rx="17.0" ry="7.5" transform="rotate(110.0 1232.8 1221.7)" fill="#141414" stroke="#0a0a0a" stroke-width="1.6"/><ellipse cx="1243.9" cy="1189.5" rx="17.0" ry="7.5" transform="rotate(-72.0 1243.9 1189.5)" fill="#ab3699" stroke="#0a0a0a" stroke-width="1.6"/><ellipse cx="1224.1" cy="1205.7" rx="14.5" ry="6.75" transform="rotate(180.0 1224.1 1205.7)" fill="#ab3699" stroke="#0a0a0a" stroke-width="1.6"/><ellipse cx="1244.5" cy="1217.8" rx="13.5" ry="6.75" transform="rotate(64.0 1244.5 1217.8)" fill="#ab3699" stroke="#0a0a0a" stroke-width="1.6"/><ellipse cx="1243.6" cy="1210.7" rx="8" ry="9" transform="rotate(-20.0 1243.6 1210.7)" fill="#ab3699" stroke="#0a0a0a" stroke-width="1.6"/></g>
<g><ellipse cx="1075.8" cy="1219.0" rx="17.0" ry="8.5" transform="rotate(-95.0 1075.8 1219.0)" fill="#141414" stroke="#0a0a0a" stroke-width="1.6"/><ellipse cx="1063.9" cy="1233.0" rx="13.5" ry="6.5" transform="rotate(-172.0 1063.9 1233.0)" fill="#ab3699" stroke="#0a0a0a" stroke-width="1.6"/><ellipse cx="1090.5" cy="1232.1" rx="13.5" ry="6.5" transform="rotate(-12.0 1090.5 1232.1)" fill="#ab3699" stroke="#0a0a0a" stroke-width="1.6"/><ellipse cx="1063.5" cy="1239.3" rx="14.0" ry="7.0" transform="rotate(170.0 1063.5 1239.3)" fill="#141414" stroke="#0a0a0a" stroke-width="1.6"/><ellipse cx="1090.7" cy="1238.8" rx="13.5" ry="6.5" transform="rotate(8.0 1090.7 1238.8)" fill="#141414" stroke="#0a0a0a" stroke-width="1.6"/><ellipse cx="1078.2" cy="1222.9" rx="13.0" ry="8.0" transform="rotate(-86.0 1078.2 1222.9)" fill="#ab3699" stroke="#0a0a0a" stroke-width="1.6"/><ellipse cx="1077.9" cy="1252.9" rx="17.0" ry="9.0" transform="rotate(88.0 1077.9 1252.9)" fill="#ab3699" stroke="#0a0a0a" stroke-width="1.6"/></g>
<g><ellipse cx="998.0" cy="1286.8" rx="14.0" ry="6.25" transform="rotate(-172.0 998.0 1286.8)" fill="#141414" stroke="#0a0a0a" stroke-width="1.6"/><ellipse cx="1025.2" cy="1286.6" rx="13.5" ry="6.25" transform="rotate(-9.0 1025.2 1286.6)" fill="#141414" stroke="#0a0a0a" stroke-width="1.6"/><ellipse cx="1011.3" cy="1273.7" rx="17.0" ry="8.5" transform="rotate(-92.0 1011.3 1273.7)" fill="#ab3699" stroke="#0a0a0a" stroke-width="1.6"/><ellipse cx="1011.9" cy="1280.2" rx="10.5" ry="8.25" transform="rotate(-90.0 1011.9 1280.2)" fill="#141414" stroke="#0a0a0a" stroke-width="1.6"/><ellipse cx="1011.9" cy="1306.7" rx="16.0" ry="8.5" transform="rotate(90.0 1011.9 1306.7)" fill="#141414" stroke="#0a0a0a" stroke-width="1.6"/><ellipse cx="997.9" cy="1292.4" rx="14.0" ry="7.75" transform="rotate(177.0 997.9 1292.4)" fill="#ab3699" stroke="#0a0a0a" stroke-width="1.6"/><ellipse cx="1024.4" cy="1290.0" rx="12.5" ry="7.25" transform="rotate(-3.0 1024.4 1290.0)" fill="#ab3699" stroke="#0a0a0a" stroke-width="1.6"/></g>
<g><ellipse cx="1259.8" cy="1296.2" rx="14.0" ry="6.25" transform="rotate(-172.0 1259.8 1296.2)" fill="#141414" stroke="#0a0a0a" stroke-width="1.6"/><ellipse cx="1287.0" cy="1296.0" rx="13.5" ry="6.25" transform="rotate(-9.0 1287.0 1296.0)" fill="#141414" stroke="#0a0a0a" stroke-width="1.6"/><ellipse cx="1273.1" cy="1283.1" rx="17.0" ry="8.5" transform="rotate(-92.0 1273.1 1283.1)" fill="#ab3699" stroke="#0a0a0a" stroke-width="1.6"/><ellipse cx="1273.7" cy="1289.6" rx="10.5" ry="8.25" transform="rotate(-90.0 1273.7 1289.6)" fill="#141414" stroke="#0a0a0a" stroke-width="1.6"/><ellipse cx="1273.7" cy="1316.1" rx="16.0" ry="8.5" transform="rotate(90.0 1273.7 1316.1)" fill="#141414" stroke="#0a0a0a" stroke-width="1.6"/><ellipse cx="1259.7" cy="1301.8" rx="14.0" ry="7.75" transform="rotate(177.0 1259.7 1301.8)" fill="#ab3699" stroke="#0a0a0a" stroke-width="1.6"/><ellipse cx="1286.2" cy="1299.4" rx="12.5" ry="7.25" transform="rotate(-3.0 1286.2 1299.4)" fill="#ab3699" stroke="#0a0a0a" stroke-width="1.6"/></g>
<g><ellipse cx="1117.3" cy="1314.1" rx="17.0" ry="7.5" transform="rotate(-72.0 1117.3 1314.1)" fill="#141414" stroke="#0a0a0a" stroke-width="1.6"/><ellipse cx="1097.5" cy="1330.3" rx="14.5" ry="6.75" transform="rotate(180.0 1097.5 1330.3)" fill="#141414" stroke="#0a0a0a" stroke-width="1.6"/><ellipse cx="1117.9" cy="1342.4" rx="13.5" ry="6.75" transform="rotate(64.0 1117.9 1342.4)" fill="#141414" stroke="#0a0a0a" stroke-width="1.6"/><ellipse cx="1105.0" cy="1318.7" rx="13.5" ry="6.75" transform="rotate(-121.0 1105.0 1318.7)" fill="#ab3699" stroke="#0a0a0a" stroke-width="1.6"/><ellipse cx="1126.5" cy="1329.8" rx="14.5" ry="6.75" transform="rotate(-2.0 1126.5 1329.8)" fill="#ab3699" stroke="#0a0a0a" stroke-width="1.6"/><ellipse cx="1106.2" cy="1346.3" rx="17.0" ry="7.5" transform="rotate(110.0 1106.2 1346.3)" fill="#ab3699" stroke="#0a0a0a" stroke-width="1.6"/></g>
<g><ellipse cx="935.7" cy="1354.8" rx="14.0" ry="6.25" transform="rotate(-172.0 935.7 1354.8)" fill="#141414" stroke="#0a0a0a" stroke-width="1.6"/><ellipse cx="962.9" cy="1354.6" rx="13.5" ry="6.25" transform="rotate(-9.0 962.9 1354.6)" fill="#141414" stroke="#0a0a0a" stroke-width="1.6"/><ellipse cx="949.0" cy="1341.7" rx="17.0" ry="8.5" transform="rotate(-92.0 949.0 1341.7)" fill="#ab3699" stroke="#0a0a0a" stroke-width="1.6"/><ellipse cx="949.6" cy="1348.2" rx="10.5" ry="8.25" transform="rotate(-90.0 949.6 1348.2)" fill="#141414" stroke="#0a0a0a" stroke-width="1.6"/><ellipse cx="949.6" cy="1374.7" rx="16.0" ry="8.5" transform="rotate(90.0 949.6 1374.7)" fill="#141414" stroke="#0a0a0a" stroke-width="1.6"/><ellipse cx="935.6" cy="1360.4" rx="14.0" ry="7.75" transform="rotate(177.0 935.6 1360.4)" fill="#ab3699" stroke="#0a0a0a" stroke-width="1.6"/><ellipse cx="962.1" cy="1358.0" rx="12.5" ry="7.25" transform="rotate(-3.0 962.1 1358.0)" fill="#ab3699" stroke="#0a0a0a" stroke-width="1.6"/></g>
<g><ellipse cx="1196.3" cy="1366.1" rx="14.0" ry="6.25" transform="rotate(-172.0 1196.3 1366.1)" fill="#141414" stroke="#0a0a0a" stroke-width="1.6"/><ellipse cx="1223.5" cy="1365.9" rx="13.5" ry="6.25" transform="rotate(-9.0 1223.5 1365.9)" fill="#141414" stroke="#0a0a0a" stroke-width="1.6"/><ellipse cx="1209.6" cy="1353.0" rx="17.0" ry="8.5" transform="rotate(-92.0 1209.6 1353.0)" fill="#ab3699" stroke="#0a0a0a" stroke-width="1.6"/><ellipse cx="1210.2" cy="1359.5" rx="10.5" ry="8.25" transform="rotate(-90.0 1210.2 1359.5)" fill="#141414" stroke="#0a0a0a" stroke-width="1.6"/><ellipse cx="1210.2" cy="1386.0" rx="16.0" ry="8.5" transform="rotate(90.0 1210.2 1386.0)" fill="#141414" stroke="#0a0a0a" stroke-width="1.6"/><ellipse cx="1196.2" cy="1371.7" rx="14.0" ry="7.75" transform="rotate(177.0 1196.2 1371.7)" fill="#ab3699" stroke="#0a0a0a" stroke-width="1.6"/><ellipse cx="1222.7" cy="1369.3" rx="12.5" ry="7.25" transform="rotate(-3.0 1222.7 1369.3)" fill="#ab3699" stroke="#0a0a0a" stroke-width="1.6"/></g>
<g stroke="#4a4a4a" stroke-width="1.5" fill="none"><line x1="947.7" y1="1644.7" x2="1008.9" y2="1578.9"/><line x1="1008.9" y1="1578.9" x2="1263.1" y2="1588"/><line x1="947.7" y1="1644.7" x2="1200.8" y2="1656"/><line x1="1200.8" y1="1656" x2="1263.1" y2="1588"/><line x1="957.1" y1="2148.7" x2="1019.5" y2="2078.8"/><line x1="1019.5" y1="2078.8" x2="1272.6" y2="2088.2"/><line x1="957.1" y1="2148.7" x2="1210.2" y2="2161.9"/><line x1="1210.2" y1="2161.9" x2="1272.6" y2="2088.2"/><line x1="947.7" y1="1644.7" x2="957.1" y2="2148.7"/><line x1="1008.9" y1="1578.9" x2="1019.5" y2="2078.8"/><line x1="1200.8" y1="1656" x2="1210.2" y2="2161.9"/><line x1="1263.1" y1="1588" x2="1272.6" y2="2088.2"/></g>
<g><ellipse cx="1023.1" cy="1560.8" rx="23.0" ry="7.5" transform="rotate(-52.0 1023.1 1560.8)" fill="#141414" stroke="#0a0a0a" stroke-width="1.6"/><ellipse cx="994.0" cy="1565.5" rx="20.0" ry="7.5" transform="rotate(-138.0 994.0 1565.5)" fill="#141414" stroke="#0a0a0a" stroke-width="1.6"/><ellipse cx="995.0" cy="1596.6" rx="22.5" ry="7.5" transform="rotate(128.0 995.0 1596.6)" fill="#141414" stroke="#0a0a0a" stroke-width="1.6"/><ellipse cx="1023.8" cy="1592.3" rx="20.0" ry="7.5" transform="rotate(42.0 1023.8 1592.3)" fill="#141414" stroke="#0a0a0a" stroke-width="1.6"/><ellipse cx="1006.8" cy="1567.1" rx="12.0" ry="5.75" transform="rotate(-100.0 1006.8 1567.1)" fill="#29339e" stroke="#0a0a0a" stroke-width="0"/><ellipse cx="1013.5" cy="1568.9" rx="11.0" ry="5.75" transform="rotate(-65.0 1013.5 1568.9)" fill="#29339e" stroke="#0a0a0a" stroke-width="0"/><ellipse cx="995.9" cy="1578.9" rx="13.0" ry="5.75" transform="rotate(180.0 995.9 1578.9)" fill="#29339e" stroke="#0a0a0a" stroke-width="0"/><ellipse cx="1021.9" cy="1577.8" rx="13.0" ry="5.75" transform="rotate(-5.0 1021.9 1577.8)" fill="#29339e" stroke="#0a0a0a" stroke-width="0"/><ellipse cx="1011.0" cy="1590.7" rx="12.0" ry="5.75" transform="rotate(80.0 1011.0 1590.7)" fill="#29339e" stroke="#0a0a0a" stroke-width="0"/></g>
<g><ellipse cx="1277.3" cy="1569.9" rx="23.0" ry="7.5" transform="rotate(-52.0 1277.3 1569.9)" fill="#141414" stroke="#0a0a0a" stroke-width="1.6"/><ellipse cx="1248.2" cy="1574.6" rx="20.0" ry="7.5" transform="rotate(-138.0 1248.2 1574.6)" fill="#141414" stroke="#0a0a0a" stroke-width="1.6"/><ellipse cx="1249.2" cy="1605.7" rx="22.5" ry="7.5" transform="rotate(128.0 1249.2 1605.7)" fill="#141414" stroke="#0a0a0a" stroke-width="1.6"/><ellipse cx="1278.0" cy="1601.4" rx="20.0" ry="7.5" transform="rotate(42.0 1278.0 1601.4)" fill="#141414" stroke="#0a0a0a" stroke-width="1.6"/><ellipse cx="1261.0" cy="1576.2" rx="12.0" ry="5.75" transform="rotate(-100.0 1261.0 1576.2)" fill="#29339e" stroke="#0a0a0a" stroke-width="0"/><ellipse cx="1267.7" cy="1578.0" rx="11.0" ry="5.75" transform="rotate(-65.0 1267.7 1578.0)" fill="#29339e" stroke="#0a0a0a" stroke-width="0"/><ellipse cx="1250.1" cy="1588.0" rx="13.0" ry="5.75" transform="rotate(180.0 1250.1 1588.0)" fill="#29339e" stroke="#0a0a0a" stroke-width="0"/><ellipse cx="1276.1" cy="1586.9" rx="13.0" ry="5.75" transform="rotate(-5.0 1276.1 1586.9)" fill="#29339e" stroke="#0a0a0a" stroke-width="0"/><ellipse cx="1265.2" cy="1599.8" rx="12.0" ry="5.75" transform="rotate(80.0 1265.2 1599.8)" fill="#29339e" stroke="#0a0a0a" stroke-width="0"/></g>
<g><ellipse cx="1094.3" cy="1599.9" rx="22.0" ry="7.5" transform="rotate(-111.0 1094.3 1599.9)" fill="#141414" stroke="#0a0a0a" stroke-width="1.6"/><ellipse cx="1112.7" cy="1638.6" rx="21.0" ry="7.5" transform="rotate(60.0 1112.7 1638.6)" fill="#141414" stroke="#0a0a0a" stroke-width="1.6"/><ellipse cx="1110.8" cy="1609.4" rx="14.0" ry="7.5" transform="rotate(-52.0 1110.8 1609.4)" fill="#141414" stroke="#0a0a0a" stroke-width="1.6"/><ellipse cx="1088.2" cy="1620.4" rx="14.0" ry="7.5" transform="rotate(180.0 1088.2 1620.4)" fill="#141414" stroke="#0a0a0a" stroke-width="1.6"/><ellipse cx="1118.3" cy="1616.7" rx="16.5" ry="7.5" transform="rotate(-13.0 1118.3 1616.7)" fill="#141414" stroke="#0a0a0a" stroke-width="1.6"/><ellipse cx="1094.0" cy="1631.7" rx="14.0" ry="7.5" transform="rotate(126.0 1094.0 1631.7)" fill="#141414" stroke="#0a0a0a" stroke-width="1.6"/><ellipse cx="1099.1" cy="1608.8" rx="12.0" ry="5.75" transform="rotate(-105.0 1099.1 1608.8)" fill="#29339e" stroke="#0a0a0a" stroke-width="0"/><ellipse cx="1092.4" cy="1622.1" rx="10.0" ry="5.75" transform="rotate(170.0 1092.4 1622.1)" fill="#29339e" stroke="#0a0a0a" stroke-width="0"/><ellipse cx="1114.7" cy="1621.5" rx="12.5" ry="5.75" transform="rotate(5.0 1114.7 1621.5)" fill="#29339e" stroke="#0a0a0a" stroke-width="0"/><ellipse cx="1097.6" cy="1630.4" rx="11.0" ry="5.75" transform="rotate(115.0 1097.6 1630.4)" fill="#29339e" stroke="#0a0a0a" stroke-width="0"/></g>
<g><ellipse cx="961.9" cy="1626.6" rx="23.0" ry="7.5" transform="rotate(-52.0 961.9 1626.6)" fill="#141414" stroke="#0a0a0a" stroke-width="1.6"/><ellipse cx="932.8" cy="1631.3" rx="20.0" ry="7.5" transform="rotate(-138.0 932.8 1631.3)" fill="#141414" stroke="#0a0a0a" stroke-width="1.6"/><ellipse cx="933.8" cy="1662.4" rx="22.5" ry="7.5" transform="rotate(128.0 933.8 1662.4)" fill="#141414" stroke="#0a0a0a" stroke-width="1.6"/><ellipse cx="962.6" cy="1658.1" rx="20.0" ry="7.5" transform="rotate(42.0 962.6 1658.1)" fill="#141414" stroke="#0a0a0a" stroke-width="1.6"/><ellipse cx="945.6" cy="1632.9" rx="12.0" ry="5.75" transform="rotate(-100.0 945.6 1632.9)" fill="#29339e" stroke="#0a0a0a" stroke-width="0"/><ellipse cx="952.3" cy="1634.7" rx="11.0" ry="5.75" transform="rotate(-65.0 952.3 1634.7)" fill="#29339e" stroke="#0a0a0a" stroke-width="0"/><ellipse cx="934.7" cy="1644.7" rx="13.0" ry="5.75" transform="rotate(180.0 934.7 1644.7)" fill="#29339e" stroke="#0a0a0a" stroke-width="0"/><ellipse cx="960.7" cy="1643.6" rx="13.0" ry="5.75" transform="rotate(-5.0 960.7 1643.6)" fill="#29339e" stroke="#0a0a0a" stroke-width="0"/><ellipse cx="949.8" cy="1656.5" rx="12.0" ry="5.75" transform="rotate(80.0 949.8 1656.5)" fill="#29339e" stroke="#0a0a0a" stroke-width="0"/></g>
<g><ellipse cx="1215.0" cy="1637.9" rx="23.0" ry="7.5" transform="rotate(-52.0 1215.0 1637.9)" fill="#141414" stroke="#0a0a0a" stroke-width="1.6"/><ellipse cx="1185.9" cy="1642.6" rx="20.0" ry="7.5" transform="rotate(-138.0 1185.9 1642.6)" fill="#141414" stroke="#0a0a0a" stroke-width="1.6"/><ellipse cx="1186.9" cy="1673.7" rx="22.5" ry="7.5" transform="rotate(128.0 1186.9 1673.7)" fill="#141414" stroke="#0a0a0a" stroke-width="1.6"/><ellipse cx="1215.7" cy="1669.4" rx="20.0" ry="7.5" transform="rotate(42.0 1215.7 1669.4)" fill="#141414" stroke="#0a0a0a" stroke-width="1.6"/><ellipse cx="1198.7" cy="1644.2" rx="12.0" ry="5.75" transform="rotate(-100.0 1198.7 1644.2)" fill="#29339e" stroke="#0a0a0a" stroke-width="0"/><ellipse cx="1205.4" cy="1646.0" rx="11.0" ry="5.75" transform="rotate(-65.0 1205.4 1646.0)" fill="#29339e" stroke="#0a0a0a" stroke-width="0"/><ellipse cx="1187.8" cy="1656.0" rx="13.0" ry="5.75" transform="rotate(180.0 1187.8 1656.0)" fill="#29339e" stroke="#0a0a0a" stroke-width="0"/><ellipse cx="1213.8" cy="1654.9" rx="13.0" ry="5.75" transform="rotate(-5.0 1213.8 1654.9)" fill="#29339e" stroke="#0a0a0a" stroke-width="0"/><ellipse cx="1202.9" cy="1667.8" rx="12.0" ry="5.75" transform="rotate(80.0 1202.9 1667.8)" fill="#29339e" stroke="#0a0a0a" stroke-width="0"/></g>
<g><ellipse cx="1130.5" cy="1690.3" rx="22.0" ry="7.5" transform="rotate(-111.0 1130.5 1690.3)" fill="#141414" stroke="#0a0a0a" stroke-width="1.6"/><ellipse cx="1148.9" cy="1729.0" rx="21.0" ry="7.5" transform="rotate(60.0 1148.9 1729.0)" fill="#141414" stroke="#0a0a0a" stroke-width="1.6"/><ellipse cx="1147.0" cy="1699.8" rx="14.0" ry="7.5" transform="rotate(-52.0 1147.0 1699.8)" fill="#141414" stroke="#0a0a0a" stroke-width="1.6"/><ellipse cx="1124.4" cy="1710.8" rx="14.0" ry="7.5" transform="rotate(180.0 1124.4 1710.8)" fill="#141414" stroke="#0a0a0a" stroke-width="1.6"/><ellipse cx="1154.5" cy="1707.1" rx="16.5" ry="7.5" transform="rotate(-13.0 1154.5 1707.1)" fill="#141414" stroke="#0a0a0a" stroke-width="1.6"/><ellipse cx="1130.2" cy="1722.1" rx="14.0" ry="7.5" transform="rotate(126.0 1130.2 1722.1)" fill="#141414" stroke="#0a0a0a" stroke-width="1.6"/><ellipse cx="1135.3" cy="1699.2" rx="12.0" ry="5.75" transform="rotate(-105.0 1135.3 1699.2)" fill="#29339e" stroke="#0a0a0a" stroke-width="0"/><ellipse cx="1128.6" cy="1712.5" rx="10.0" ry="5.75" transform="rotate(170.0 1128.6 1712.5)" fill="#29339e" stroke="#0a0a0a" stroke-width="0"/><ellipse cx="1150.9" cy="1711.9" rx="12.5" ry="5.75" transform="rotate(5.0 1150.9 1711.9)" fill="#29339e" stroke="#0a0a0a" stroke-width="0"/><ellipse cx="1133.8" cy="1720.8" rx="11.0" ry="5.75" transform="rotate(115.0 1133.8 1720.8)" fill="#29339e" stroke="#0a0a0a" stroke-width="0"/></g>
<g><ellipse cx="995.9" cy="1719.1" rx="23.0" ry="7.5" transform="rotate(-52.0 995.9 1719.1)" fill="#141414" stroke="#0a0a0a" stroke-width="1.6"/><ellipse cx="966.8" cy="1723.8" rx="20.0" ry="7.5" transform="rotate(-138.0 966.8 1723.8)" fill="#141414" stroke="#0a0a0a" stroke-width="1.6"/><ellipse cx="967.8" cy="1754.9" rx="22.5" ry="7.5" transform="rotate(128.0 967.8 1754.9)" fill="#141414" stroke="#0a0a0a" stroke-width="1.6"/><ellipse cx="996.6" cy="1750.6" rx="20.0" ry="7.5" transform="rotate(42.0 996.6 1750.6)" fill="#141414" stroke="#0a0a0a" stroke-width="1.6"/><ellipse cx="979.6" cy="1725.4" rx="12.0" ry="5.75" transform="rotate(-100.0 979.6 1725.4)" fill="#29339e" stroke="#0a0a0a" stroke-width="0"/><ellipse cx="986.3" cy="1727.2" rx="11.0" ry="5.75" transform="rotate(-65.0 986.3 1727.2)" fill="#29339e" stroke="#0a0a0a" stroke-width="0"/><ellipse cx="968.7" cy="1737.2" rx="13.0" ry="5.75" transform="rotate(180.0 968.7 1737.2)" fill="#29339e" stroke="#0a0a0a" stroke-width="0"/><ellipse cx="994.7" cy="1736.1" rx="13.0" ry="5.75" transform="rotate(-5.0 994.7 1736.1)" fill="#29339e" stroke="#0a0a0a" stroke-width="0"/><ellipse cx="983.8" cy="1749.0" rx="12.0" ry="5.75" transform="rotate(80.0 983.8 1749.0)" fill="#29339e" stroke="#0a0a0a" stroke-width="0"/></g>
<g><ellipse cx="1247.1" cy="1728.6" rx="23.0" ry="7.5" transform="rotate(-52.0 1247.1 1728.6)" fill="#141414" stroke="#0a0a0a" stroke-width="1.6"/><ellipse cx="1218.0" cy="1733.3" rx="20.0" ry="7.5" transform="rotate(-138.0 1218.0 1733.3)" fill="#141414" stroke="#0a0a0a" stroke-width="1.6"/><ellipse cx="1219.0" cy="1764.4" rx="22.5" ry="7.5" transform="rotate(128.0 1219.0 1764.4)" fill="#141414" stroke="#0a0a0a" stroke-width="1.6"/><ellipse cx="1247.8" cy="1760.1" rx="20.0" ry="7.5" transform="rotate(42.0 1247.8 1760.1)" fill="#141414" stroke="#0a0a0a" stroke-width="1.6"/><ellipse cx="1230.8" cy="1734.9" rx="12.0" ry="5.75" transform="rotate(-100.0 1230.8 1734.9)" fill="#29339e" stroke="#0a0a0a" stroke-width="0"/><ellipse cx="1237.5" cy="1736.7" rx="11.0" ry="5.75" transform="rotate(-65.0 1237.5 1736.7)" fill="#29339e" stroke="#0a0a0a" stroke-width="0"/><ellipse cx="1219.9" cy="1746.7" rx="13.0" ry="5.75" transform="rotate(180.0 1219.9 1746.7)" fill="#29339e" stroke="#0a0a0a" stroke-width="0"/><ellipse cx="1245.9" cy="1745.6" rx="13.0" ry="5.75" transform="rotate(-5.0 1245.9 1745.6)" fill="#29339e" stroke="#0a0a0a" stroke-width="0"/><ellipse cx="1235.0" cy="1758.5" rx="12.0" ry="5.75" transform="rotate(80.0 1235.0 1758.5)" fill="#29339e" stroke="#0a0a0a" stroke-width="0"/></g>
<g><ellipse cx="1068.2" cy="1756.4" rx="22.0" ry="7.5" transform="rotate(-111.0 1068.2 1756.4)" fill="#141414" stroke="#0a0a0a" stroke-width="1.6"/><ellipse cx="1086.6" cy="1795.1" rx="21.0" ry="7.5" transform="rotate(60.0 1086.6 1795.1)" fill="#141414" stroke="#0a0a0a" stroke-width="1.6"/><ellipse cx="1084.7" cy="1765.9" rx="14.0" ry="7.5" transform="rotate(-52.0 1084.7 1765.9)" fill="#141414" stroke="#0a0a0a" stroke-width="1.6"/><ellipse cx="1062.1" cy="1776.9" rx="14.0" ry="7.5" transform="rotate(180.0 1062.1 1776.9)" fill="#141414" stroke="#0a0a0a" stroke-width="1.6"/><ellipse cx="1092.2" cy="1773.2" rx="16.5" ry="7.5" transform="rotate(-13.0 1092.2 1773.2)" fill="#141414" stroke="#0a0a0a" stroke-width="1.6"/><ellipse cx="1067.9" cy="1788.2" rx="14.0" ry="7.5" transform="rotate(126.0 1067.9 1788.2)" fill="#141414" stroke="#0a0a0a" stroke-width="1.6"/><ellipse cx="1073.0" cy="1765.3" rx="12.0" ry="5.75" transform="rotate(-105.0 1073.0 1765.3)" fill="#29339e" stroke="#0a0a0a" stroke-width="0"/><ellipse cx="1066.3" cy="1778.6" rx="10.0" ry="5.75" transform="rotate(170.0 1066.3 1778.6)" fill="#29339e" stroke="#0a0a0a" stroke-width="0"/><ellipse cx="1088.6" cy="1778.0" rx="12.5" ry="5.75" transform="rotate(5.0 1088.6 1778.0)" fill="#29339e" stroke="#0a0a0a" stroke-width="0"/><ellipse cx="1071.5" cy="1786.9" rx="11.0" ry="5.75" transform="rotate(115.0 1071.5 1786.9)" fill="#29339e" stroke="#0a0a0a" stroke-width="0"/></g>
<g><ellipse cx="1005.9" cy="1812.5" rx="22.0" ry="7.5" transform="rotate(-111.0 1005.9 1812.5)" fill="#141414" stroke="#0a0a0a" stroke-width="1.6"/><ellipse cx="1024.3" cy="1851.2" rx="21.0" ry="7.5" transform="rotate(60.0 1024.3 1851.2)" fill="#141414" stroke="#0a0a0a" stroke-width="1.6"/><ellipse cx="1022.4" cy="1822.0" rx="14.0" ry="7.5" transform="rotate(-52.0 1022.4 1822.0)" fill="#141414" stroke="#0a0a0a" stroke-width="1.6"/><ellipse cx="999.8" cy="1833.0" rx="14.0" ry="7.5" transform="rotate(180.0 999.8 1833.0)" fill="#141414" stroke="#0a0a0a" stroke-width="1.6"/><ellipse cx="1029.9" cy="1829.3" rx="16.5" ry="7.5" transform="rotate(-13.0 1029.9 1829.3)" fill="#141414" stroke="#0a0a0a" stroke-width="1.6"/><ellipse cx="1005.6" cy="1844.3" rx="14.0" ry="7.5" transform="rotate(126.0 1005.6 1844.3)" fill="#141414" stroke="#0a0a0a" stroke-width="1.6"/><ellipse cx="1010.7" cy="1821.4" rx="12.0" ry="5.75" transform="rotate(-105.0 1010.7 1821.4)" fill="#29339e" stroke="#0a0a0a" stroke-width="0"/><ellipse cx="1004.0" cy="1834.7" rx="10.0" ry="5.75" transform="rotate(170.0 1004.0 1834.7)" fill="#29339e" stroke="#0a0a0a" stroke-width="0"/><ellipse cx="1026.3" cy="1834.1" rx="12.5" ry="5.75" transform="rotate(5.0 1026.3 1834.1)" fill="#29339e" stroke="#0a0a0a" stroke-width="0"/><ellipse cx="1009.2" cy="1843.0" rx="11.0" ry="5.75" transform="rotate(115.0 1009.2 1843.0)" fill="#29339e" stroke="#0a0a0a" stroke-width="0"/></g>
<g><ellipse cx="1259.0" cy="1819.5" rx="22.0" ry="7.5" transform="rotate(-111.0 1259.0 1819.5)" fill="#141414" stroke="#0a0a0a" stroke-width="1.6"/><ellipse cx="1277.4" cy="1858.2" rx="21.0" ry="7.5" transform="rotate(60.0 1277.4 1858.2)" fill="#141414" stroke="#0a0a0a" stroke-width="1.6"/><ellipse cx="1275.5" cy="1829.0" rx="14.0" ry="7.5" transform="rotate(-52.0 1275.5 1829.0)" fill="#141414" stroke="#0a0a0a" stroke-width="1.6"/><ellipse cx="1252.9" cy="1840.0" rx="14.0" ry="7.5" transform="rotate(180.0 1252.9 1840.0)" fill="#141414" stroke="#0a0a0a" stroke-width="1.6"/><ellipse cx="1283.0" cy="1836.3" rx="16.5" ry="7.5" transform="rotate(-13.0 1283.0 1836.3)" fill="#141414" stroke="#0a0a0a" stroke-width="1.6"/><ellipse cx="1258.7" cy="1851.3" rx="14.0" ry="7.5" transform="rotate(126.0 1258.7 1851.3)" fill="#141414" stroke="#0a0a0a" stroke-width="1.6"/><ellipse cx="1263.8" cy="1828.4" rx="12.0" ry="5.75" transform="rotate(-105.0 1263.8 1828.4)" fill="#29339e" stroke="#0a0a0a" stroke-width="0"/><ellipse cx="1257.1" cy="1841.7" rx="10.0" ry="5.75" transform="rotate(170.0 1257.1 1841.7)" fill="#29339e" stroke="#0a0a0a" stroke-width="0"/><ellipse cx="1279.4" cy="1841.1" rx="12.5" ry="5.75" transform="rotate(5.0 1279.4 1841.1)" fill="#29339e" stroke="#0a0a0a" stroke-width="0"/><ellipse cx="1262.3" cy="1850.0" rx="11.0" ry="5.75" transform="rotate(115.0 1262.3 1850.0)" fill="#29339e" stroke="#0a0a0a" stroke-width="0"/></g>
<g><ellipse cx="1124.3" cy="1847.2" rx="23.0" ry="7.5" transform="rotate(-52.0 1124.3 1847.2)" fill="#141414" stroke="#0a0a0a" stroke-width="1.6"/><ellipse cx="1095.2" cy="1851.9" rx="20.0" ry="7.5" transform="rotate(-138.0 1095.2 1851.9)" fill="#141414" stroke="#0a0a0a" stroke-width="1.6"/><ellipse cx="1096.2" cy="1883.0" rx="22.5" ry="7.5" transform="rotate(128.0 1096.2 1883.0)" fill="#141414" stroke="#0a0a0a" stroke-width="1.6"/><ellipse cx="1125.0" cy="1878.7" rx="20.0" ry="7.5" transform="rotate(42.0 1125.0 1878.7)" fill="#141414" stroke="#0a0a0a" stroke-width="1.6"/><ellipse cx="1108.0" cy="1853.5" rx="12.0" ry="5.75" transform="rotate(-100.0 1108.0 1853.5)" fill="#29339e" stroke="#0a0a0a" stroke-width="0"/><ellipse cx="1114.7" cy="1855.3" rx="11.0" ry="5.75" transform="rotate(-65.0 1114.7 1855.3)" fill="#29339e" stroke="#0a0a0a" stroke-width="0"/><ellipse cx="1097.1" cy="1865.3" rx="13.0" ry="5.75" transform="rotate(180.0 1097.1 1865.3)" fill="#29339e" stroke="#0a0a0a" stroke-width="0"/><ellipse cx="1123.1" cy="1864.2" rx="13.0" ry="5.75" transform="rotate(-5.0 1123.1 1864.2)" fill="#29339e" stroke="#0a0a0a" stroke-width="0"/><ellipse cx="1112.2" cy="1877.1" rx="12.0" ry="5.75" transform="rotate(80.0 1112.2 1877.1)" fill="#29339e" stroke="#0a0a0a" stroke-width="0"/></g>
<g><ellipse cx="943.5" cy="1875.1" rx="22.0" ry="7.5" transform="rotate(-111.0 943.5 1875.1)" fill="#141414" stroke="#0a0a0a" stroke-width="1.6"/><ellipse cx="961.9" cy="1913.8" rx="21.0" ry="7.5" transform="rotate(60.0 961.9 1913.8)" fill="#141414" stroke="#0a0a0a" stroke-width="1.6"/><ellipse cx="960.0" cy="1884.6" rx="14.0" ry="7.5" transform="rotate(-52.0 960.0 1884.6)" fill="#141414" stroke="#0a0a0a" stroke-width="1.6"/><ellipse cx="937.4" cy="1895.6" rx="14.0" ry="7.5" transform="rotate(180.0 937.4 1895.6)" fill="#141414" stroke="#0a0a0a" stroke-width="1.6"/><ellipse cx="967.5" cy="1891.9" rx="16.5" ry="7.5" transform="rotate(-13.0 967.5 1891.9)" fill="#141414" stroke="#0a0a0a" stroke-width="1.6"/><ellipse cx="943.2" cy="1906.9" rx="14.0" ry="7.5" transform="rotate(126.0 943.2 1906.9)" fill="#141414" stroke="#0a0a0a" stroke-width="1.6"/><ellipse cx="948.3" cy="1884.0" rx="12.0" ry="5.75" transform="rotate(-105.0 948.3 1884.0)" fill="#29339e" stroke="#0a0a0a" stroke-width="0"/><ellipse cx="941.6" cy="1897.3" rx="10.0" ry="5.75" transform="rotate(170.0 941.6 1897.3)" fill="#29339e" stroke="#0a0a0a" stroke-width="0"/><ellipse cx="963.9" cy="1896.7" rx="12.5" ry="5.75" transform="rotate(5.0 963.9 1896.7)" fill="#29339e" stroke="#0a0a0a" stroke-width="0"/><ellipse cx="946.8" cy="1905.6" rx="11.0" ry="5.75" transform="rotate(115.0 946.8 1905.6)" fill="#29339e" stroke="#0a0a0a" stroke-width="0"/></g>
<g><ellipse cx="1070.1" cy="1882.6" rx="22.0" ry="7.5" transform="rotate(-111.0 1070.1 1882.6)" fill="#141414" stroke="#0a0a0a" stroke-width="1.6"/><ellipse cx="1088.5" cy="1921.3" rx="21.0" ry="7.5" transform="rotate(60.0 1088.5 1921.3)" fill="#141414" stroke="#0a0a0a" stroke-width="1.6"/><ellipse cx="1086.6" cy="1892.1" rx="14.0" ry="7.5" transform="rotate(-52.0 1086.6 1892.1)" fill="#141414" stroke="#0a0a0a" stroke-width="1.6"/><ellipse cx="1064.0" cy="1903.1" rx="14.0" ry="7.5" transform="rotate(180.0 1064.0 1903.1)" fill="#141414" stroke="#0a0a0a" stroke-width="1.6"/><ellipse cx="1094.1" cy="1899.4" rx="16.5" ry="7.5" transform="rotate(-13.0 1094.1 1899.4)" fill="#141414" stroke="#0a0a0a" stroke-width="1.6"/><ellipse cx="1069.8" cy="1914.4" rx="14.0" ry="7.5" transform="rotate(126.0 1069.8 1914.4)" fill="#141414" stroke="#0a0a0a" stroke-width="1.6"/><ellipse cx="1074.9" cy="1891.5" rx="12.0" ry="5.75" transform="rotate(-105.0 1074.9 1891.5)" fill="#29339e" stroke="#0a0a0a" stroke-width="0"/><ellipse cx="1068.2" cy="1904.8" rx="10.0" ry="5.75" transform="rotate(170.0 1068.2 1904.8)" fill="#29339e" stroke="#0a0a0a" stroke-width="0"/><ellipse cx="1090.5" cy="1904.2" rx="12.5" ry="5.75" transform="rotate(5.0 1090.5 1904.2)" fill="#29339e" stroke="#0a0a0a" stroke-width="0"/><ellipse cx="1073.4" cy="1913.1" rx="11.0" ry="5.75" transform="rotate(115.0 1073.4 1913.1)" fill="#29339e" stroke="#0a0a0a" stroke-width="0"/></g>
<g><ellipse cx="1158.3" cy="1939.8" rx="23.0" ry="7.5" transform="rotate(-52.0 1158.3 1939.8)" fill="#141414" stroke="#0a0a0a" stroke-width="1.6"/><ellipse cx="1129.2" cy="1944.5" rx="20.0" ry="7.5" transform="rotate(-138.0 1129.2 1944.5)" fill="#141414" stroke="#0a0a0a" stroke-width="1.6"/><ellipse cx="1130.2" cy="1975.6" rx="22.5" ry="7.5" transform="rotate(128.0 1130.2 1975.6)" fill="#141414" stroke="#0a0a0a" stroke-width="1.6"/><ellipse cx="1159.0" cy="1971.3" rx="20.0" ry="7.5" transform="rotate(42.0 1159.0 1971.3)" fill="#141414" stroke="#0a0a0a" stroke-width="1.6"/><ellipse cx="1142.0" cy="1946.1" rx="12.0" ry="5.75" transform="rotate(-100.0 1142.0 1946.1)" fill="#29339e" stroke="#0a0a0a" stroke-width="0"/><ellipse cx="1148.7" cy="1947.9" rx="11.0" ry="5.75" transform="rotate(-65.0 1148.7 1947.9)" fill="#29339e" stroke="#0a0a0a" stroke-width="0"/><ellipse cx="1131.1" cy="1957.9" rx="13.0" ry="5.75" transform="rotate(180.0 1131.1 1957.9)" fill="#29339e" stroke="#0a0a0a" stroke-width="0"/><ellipse cx="1157.1" cy="1956.8" rx="13.0" ry="5.75" transform="rotate(-5.0 1157.1 1956.8)" fill="#29339e" stroke="#0a0a0a" stroke-width="0"/><ellipse cx="1146.2" cy="1969.7" rx="12.0" ry="5.75" transform="rotate(80.0 1146.2 1969.7)" fill="#29339e" stroke="#0a0a0a" stroke-width="0"/></g>
<g><ellipse cx="977.5" cy="1967.6" rx="22.0" ry="7.5" transform="rotate(-111.0 977.5 1967.6)" fill="#141414" stroke="#0a0a0a" stroke-width="1.6"/><ellipse cx="995.9" cy="2006.3" rx="21.0" ry="7.5" transform="rotate(60.0 995.9 2006.3)" fill="#141414" stroke="#0a0a0a" stroke-width="1.6"/><ellipse cx="994.0" cy="1977.1" rx="14.0" ry="7.5" transform="rotate(-52.0 994.0 1977.1)" fill="#141414" stroke="#0a0a0a" stroke-width="1.6"/><ellipse cx="971.4" cy="1988.1" rx="14.0" ry="7.5" transform="rotate(180.0 971.4 1988.1)" fill="#141414" stroke="#0a0a0a" stroke-width="1.6"/><ellipse cx="1001.5" cy="1984.4" rx="16.5" ry="7.5" transform="rotate(-13.0 1001.5 1984.4)" fill="#141414" stroke="#0a0a0a" stroke-width="1.6"/><ellipse cx="977.2" cy="1999.4" rx="14.0" ry="7.5" transform="rotate(126.0 977.2 1999.4)" fill="#141414" stroke="#0a0a0a" stroke-width="1.6"/><ellipse cx="982.3" cy="1976.5" rx="12.0" ry="5.75" transform="rotate(-105.0 982.3 1976.5)" fill="#29339e" stroke="#0a0a0a" stroke-width="0"/><ellipse cx="975.6" cy="1989.8" rx="10.0" ry="5.75" transform="rotate(170.0 975.6 1989.8)" fill="#29339e" stroke="#0a0a0a" stroke-width="0"/><ellipse cx="997.9" cy="1989.2" rx="12.5" ry="5.75" transform="rotate(5.0 997.9 1989.2)" fill="#29339e" stroke="#0a0a0a" stroke-width="0"/><ellipse cx="980.8" cy="1998.1" rx="11.0" ry="5.75" transform="rotate(115.0 980.8 1998.1)" fill="#29339e" stroke="#0a0a0a" stroke-width="0"/></g>
<g><ellipse cx="1230.7" cy="1978.9" rx="22.0" ry="7.5" transform="rotate(-111.0 1230.7 1978.9)" fill="#141414" stroke="#0a0a0a" stroke-width="1.6"/><ellipse cx="1249.1" cy="2017.6" rx="21.0" ry="7.5" transform="rotate(60.0 1249.1 2017.6)" fill="#141414" stroke="#0a0a0a" stroke-width="1.6"/><ellipse cx="1247.2" cy="1988.4" rx="14.0" ry="7.5" transform="rotate(-52.0 1247.2 1988.4)" fill="#141414" stroke="#0a0a0a" stroke-width="1.6"/><ellipse cx="1224.6" cy="1999.4" rx="14.0" ry="7.5" transform="rotate(180.0 1224.6 1999.4)" fill="#141414" stroke="#0a0a0a" stroke-width="1.6"/><ellipse cx="1254.7" cy="1995.7" rx="16.5" ry="7.5" transform="rotate(-13.0 1254.7 1995.7)" fill="#141414" stroke="#0a0a0a" stroke-width="1.6"/><ellipse cx="1230.4" cy="2010.7" rx="14.0" ry="7.5" transform="rotate(126.0 1230.4 2010.7)" fill="#141414" stroke="#0a0a0a" stroke-width="1.6"/><ellipse cx="1235.5" cy="1987.8" rx="12.0" ry="5.75" transform="rotate(-105.0 1235.5 1987.8)" fill="#29339e" stroke="#0a0a0a" stroke-width="0"/><ellipse cx="1228.8" cy="2001.1" rx="10.0" ry="5.75" transform="rotate(170.0 1228.8 2001.1)" fill="#29339e" stroke="#0a0a0a" stroke-width="0"/><ellipse cx="1251.1" cy="2000.5" rx="12.5" ry="5.75" transform="rotate(5.0 1251.1 2000.5)" fill="#29339e" stroke="#0a0a0a" stroke-width="0"/><ellipse cx="1234.0" cy="2009.4" rx="11.0" ry="5.75" transform="rotate(115.0 1234.0 2009.4)" fill="#29339e" stroke="#0a0a0a" stroke-width="0"/></g>
<g><ellipse cx="1096.0" cy="2009.7" rx="23.0" ry="7.5" transform="rotate(-52.0 1096.0 2009.7)" fill="#141414" stroke="#0a0a0a" stroke-width="1.6"/><ellipse cx="1066.9" cy="2014.4" rx="20.0" ry="7.5" transform="rotate(-138.0 1066.9 2014.4)" fill="#141414" stroke="#0a0a0a" stroke-width="1.6"/><ellipse cx="1067.9" cy="2045.5" rx="22.5" ry="7.5" transform="rotate(128.0 1067.9 2045.5)" fill="#141414" stroke="#0a0a0a" stroke-width="1.6"/><ellipse cx="1096.7" cy="2041.2" rx="20.0" ry="7.5" transform="rotate(42.0 1096.7 2041.2)" fill="#141414" stroke="#0a0a0a" stroke-width="1.6"/><ellipse cx="1079.7" cy="2016.0" rx="12.0" ry="5.75" transform="rotate(-100.0 1079.7 2016.0)" fill="#29339e" stroke="#0a0a0a" stroke-width="0"/><ellipse cx="1086.4" cy="2017.8" rx="11.0" ry="5.75" transform="rotate(-65.0 1086.4 2017.8)" fill="#29339e" stroke="#0a0a0a" stroke-width="0"/><ellipse cx="1068.8" cy="2027.8" rx="13.0" ry="5.75" transform="rotate(180.0 1068.8 2027.8)" fill="#29339e" stroke="#0a0a0a" stroke-width="0"/><ellipse cx="1094.8" cy="2026.7" rx="13.0" ry="5.75" transform="rotate(-5.0 1094.8 2026.7)" fill="#29339e" stroke="#0a0a0a" stroke-width="0"/><ellipse cx="1083.9" cy="2039.6" rx="12.0" ry="5.75" transform="rotate(80.0 1083.9 2039.6)" fill="#29339e" stroke="#0a0a0a" stroke-width="0"/></g>
<g><ellipse cx="1033.7" cy="2060.7" rx="23.0" ry="7.5" transform="rotate(-52.0 1033.7 2060.7)" fill="#141414" stroke="#0a0a0a" stroke-width="1.6"/><ellipse cx="1004.6" cy="2065.4" rx="20.0" ry="7.5" transform="rotate(-138.0 1004.6 2065.4)" fill="#141414" stroke="#0a0a0a" stroke-width="1.6"/><ellipse cx="1005.6" cy="2096.5" rx="22.5" ry="7.5" transform="rotate(128.0 1005.6 2096.5)" fill="#141414" stroke="#0a0a0a" stroke-width="1.6"/><ellipse cx="1034.4" cy="2092.2" rx="20.0" ry="7.5" transform="rotate(42.0 1034.4 2092.2)" fill="#141414" stroke="#0a0a0a" stroke-width="1.6"/><ellipse cx="1017.4" cy="2067.0" rx="12.0" ry="5.75" transform="rotate(-100.0 1017.4 2067.0)" fill="#29339e" stroke="#0a0a0a" stroke-width="0"/><ellipse cx="1024.1" cy="2068.8" rx="11.0" ry="5.75" transform="rotate(-65.0 1024.1 2068.8)" fill="#29339e" stroke="#0a0a0a" stroke-width="0"/><ellipse cx="1006.5" cy="2078.8" rx="13.0" ry="5.75" transform="rotate(180.0 1006.5 2078.8)" fill="#29339e" stroke="#0a0a0a" stroke-width="0"/><ellipse cx="1032.5" cy="2077.7" rx="13.0" ry="5.75" transform="rotate(-5.0 1032.5 2077.7)" fill="#29339e" stroke="#0a0a0a" stroke-width="0"/><ellipse cx="1021.6" cy="2090.6" rx="12.0" ry="5.75" transform="rotate(80.0 1021.6 2090.6)" fill="#29339e" stroke="#0a0a0a" stroke-width="0"/></g>
<g><ellipse cx="1286.8" cy="2070.1" rx="23.0" ry="7.5" transform="rotate(-52.0 1286.8 2070.1)" fill="#141414" stroke="#0a0a0a" stroke-width="1.6"/><ellipse cx="1257.7" cy="2074.8" rx="20.0" ry="7.5" transform="rotate(-138.0 1257.7 2074.8)" fill="#141414" stroke="#0a0a0a" stroke-width="1.6"/><ellipse cx="1258.7" cy="2105.9" rx="22.5" ry="7.5" transform="rotate(128.0 1258.7 2105.9)" fill="#141414" stroke="#0a0a0a" stroke-width="1.6"/><ellipse cx="1287.5" cy="2101.6" rx="20.0" ry="7.5" transform="rotate(42.0 1287.5 2101.6)" fill="#141414" stroke="#0a0a0a" stroke-width="1.6"/><ellipse cx="1270.5" cy="2076.4" rx="12.0" ry="5.75" transform="rotate(-100.0 1270.5 2076.4)" fill="#29339e" stroke="#0a0a0a" stroke-width="0"/><ellipse cx="1277.2" cy="2078.2" rx="11.0" ry="5.75" transform="rotate(-65.0 1277.2 2078.2)" fill="#29339e" stroke="#0a0a0a" stroke-width="0"/><ellipse cx="1259.6" cy="2088.2" rx="13.0" ry="5.75" transform="rotate(180.0 1259.6 2088.2)" fill="#29339e" stroke="#0a0a0a" stroke-width="0"/><ellipse cx="1285.6" cy="2087.1" rx="13.0" ry="5.75" transform="rotate(-5.0 1285.6 2087.1)" fill="#29339e" stroke="#0a0a0a" stroke-width="0"/><ellipse cx="1274.7" cy="2100.0" rx="12.0" ry="5.75" transform="rotate(80.0 1274.7 2100.0)" fill="#29339e" stroke="#0a0a0a" stroke-width="0"/></g>
<g><ellipse cx="1106.0" cy="2098.0" rx="22.0" ry="7.5" transform="rotate(-111.0 1106.0 2098.0)" fill="#141414" stroke="#0a0a0a" stroke-width="1.6"/><ellipse cx="1124.4" cy="2136.7" rx="21.0" ry="7.5" transform="rotate(60.0 1124.4 2136.7)" fill="#141414" stroke="#0a0a0a" stroke-width="1.6"/><ellipse cx="1122.5" cy="2107.5" rx="14.0" ry="7.5" transform="rotate(-52.0 1122.5 2107.5)" fill="#141414" stroke="#0a0a0a" stroke-width="1.6"/><ellipse cx="1099.9" cy="2118.5" rx="14.0" ry="7.5" transform="rotate(180.0 1099.9 2118.5)" fill="#141414" stroke="#0a0a0a" stroke-width="1.6"/><ellipse cx="1130.0" cy="2114.8" rx="16.5" ry="7.5" transform="rotate(-13.0 1130.0 2114.8)" fill="#141414" stroke="#0a0a0a" stroke-width="1.6"/><ellipse cx="1105.7" cy="2129.8" rx="14.0" ry="7.5" transform="rotate(126.0 1105.7 2129.8)" fill="#141414" stroke="#0a0a0a" stroke-width="1.6"/><ellipse cx="1110.8" cy="2106.9" rx="12.0" ry="5.75" transform="rotate(-105.0 1110.8 2106.9)" fill="#29339e" stroke="#0a0a0a" stroke-width="0"/><ellipse cx="1104.1" cy="2120.2" rx="10.0" ry="5.75" transform="rotate(170.0 1104.1 2120.2)" fill="#29339e" stroke="#0a0a0a" stroke-width="0"/><ellipse cx="1126.4" cy="2119.6" rx="12.5" ry="5.75" transform="rotate(5.0 1126.4 2119.6)" fill="#29339e" stroke="#0a0a0a" stroke-width="0"/><ellipse cx="1109.3" cy="2128.5" rx="11.0" ry="5.75" transform="rotate(115.0 1109.3 2128.5)" fill="#29339e" stroke="#0a0a0a" stroke-width="0"/></g>
<g><ellipse cx="971.3" cy="2130.6" rx="23.0" ry="7.5" transform="rotate(-52.0 971.3 2130.6)" fill="#141414" stroke="#0a0a0a" stroke-width="1.6"/><ellipse cx="942.2" cy="2135.3" rx="20.0" ry="7.5" transform="rotate(-138.0 942.2 2135.3)" fill="#141414" stroke="#0a0a0a" stroke-width="1.6"/><ellipse cx="943.2" cy="2166.4" rx="22.5" ry="7.5" transform="rotate(128.0 943.2 2166.4)" fill="#141414" stroke="#0a0a0a" stroke-width="1.6"/><ellipse cx="972.0" cy="2162.1" rx="20.0" ry="7.5" transform="rotate(42.0 972.0 2162.1)" fill="#141414" stroke="#0a0a0a" stroke-width="1.6"/><ellipse cx="955.0" cy="2136.9" rx="12.0" ry="5.75" transform="rotate(-100.0 955.0 2136.9)" fill="#29339e" stroke="#0a0a0a" stroke-width="0"/><ellipse cx="961.7" cy="2138.7" rx="11.0" ry="5.75" transform="rotate(-65.0 961.7 2138.7)" fill="#29339e" stroke="#0a0a0a" stroke-width="0"/><ellipse cx="944.1" cy="2148.7" rx="13.0" ry="5.75" transform="rotate(180.0 944.1 2148.7)" fill="#29339e" stroke="#0a0a0a" stroke-width="0"/><ellipse cx="970.1" cy="2147.6" rx="13.0" ry="5.75" transform="rotate(-5.0 970.1 2147.6)" fill="#29339e" stroke="#0a0a0a" stroke-width="0"/><ellipse cx="959.2" cy="2160.5" rx="12.0" ry="5.75" transform="rotate(80.0 959.2 2160.5)" fill="#29339e" stroke="#0a0a0a" stroke-width="0"/></g>
<g><ellipse cx="1224.4" cy="2143.8" rx="23.0" ry="7.5" transform="rotate(-52.0 1224.4 2143.8)" fill="#141414" stroke="#0a0a0a" stroke-width="1.6"/><ellipse cx="1195.3" cy="2148.5" rx="20.0" ry="7.5" transform="rotate(-138.0 1195.3 2148.5)" fill="#141414" stroke="#0a0a0a" stroke-width="1.6"/><ellipse cx="1196.3" cy="2179.6" rx="22.5" ry="7.5" transform="rotate(128.0 1196.3 2179.6)" fill="#141414" stroke="#0a0a0a" stroke-width="1.6"/><ellipse cx="1225.1" cy="2175.3" rx="20.0" ry="7.5" transform="rotate(42.0 1225.1 2175.3)" fill="#141414" stroke="#0a0a0a" stroke-width="1.6"/><ellipse cx="1208.1" cy="2150.1" rx="12.0" ry="5.75" transform="rotate(-100.0 1208.1 2150.1)" fill="#29339e" stroke="#0a0a0a" stroke-width="0"/><ellipse cx="1214.8" cy="2151.9" rx="11.0" ry="5.75" transform="rotate(-65.0 1214.8 2151.9)" fill="#29339e" stroke="#0a0a0a" stroke-width="0"/><ellipse cx="1197.2" cy="2161.9" rx="13.0" ry="5.75" transform="rotate(180.0 1197.2 2161.9)" fill="#29339e" stroke="#0a0a0a" stroke-width="0"/><ellipse cx="1223.2" cy="2160.8" rx="13.0" ry="5.75" transform="rotate(-5.0 1223.2 2160.8)" fill="#29339e" stroke="#0a0a0a" stroke-width="0"/><ellipse cx="1212.3" cy="2173.7" rx="12.0" ry="5.75" transform="rotate(80.0 1212.3 2173.7)" fill="#29339e" stroke="#0a0a0a" stroke-width="0"/></g>
</svg></body></html>
